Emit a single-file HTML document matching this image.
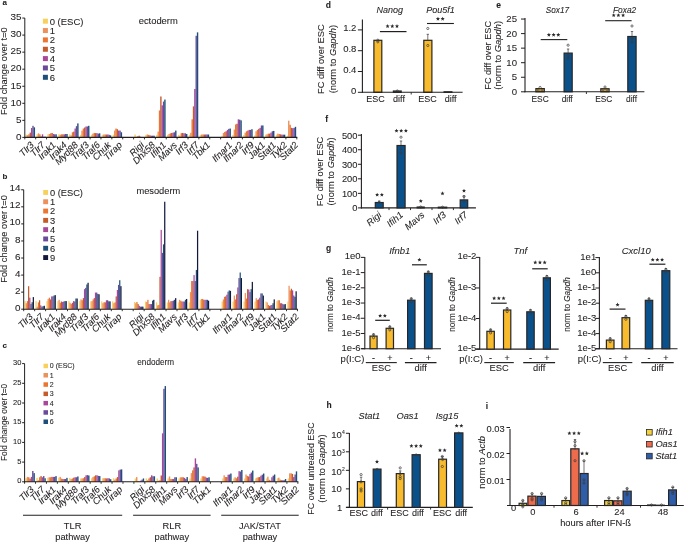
<!DOCTYPE html>
<html><head><meta charset="utf-8"><style>
html,body{margin:0;padding:0;background:#fff;}
svg{display:block;font-family:"Liberation Sans", sans-serif;will-change:transform;}
text{stroke:#231f20;stroke-width:0.08px;}
</style></head><body>
<svg width="685" height="542" viewBox="0 0 685 542" fill="#231f20">
<rect width="685" height="542" fill="#fff"/>
<text x="2.4" y="4.9" font-size="8" font-weight="bold">a</text>
<rect x="25.6" y="134.67" width="1.39" height="2.73" fill="#f8d15c"/>
<rect x="26.94" y="135.18" width="1.39" height="2.22" fill="#ec915c"/>
<rect x="28.29" y="134.33" width="1.39" height="3.07" fill="#ec7631"/>
<rect x="29.63" y="132.63" width="1.39" height="4.77" fill="#c55a2a"/>
<rect x="30.97" y="128.02" width="1.39" height="9.38" fill="#a9489b"/>
<rect x="32.31" y="125.81" width="1.39" height="11.59" fill="#6a4b9b"/>
<rect x="33.66" y="127.34" width="1.39" height="10.06" fill="#1d4f7a"/>
<rect x="36.48" y="134.33" width="1.39" height="3.07" fill="#f8d15c"/>
<rect x="37.82" y="133.31" width="1.39" height="4.09" fill="#ec915c"/>
<rect x="39.17" y="134.33" width="1.39" height="3.07" fill="#ec7631"/>
<rect x="40.51" y="136.38" width="1.39" height="1.02" fill="#c55a2a"/>
<rect x="41.85" y="134.33" width="1.39" height="3.07" fill="#a9489b"/>
<rect x="43.19" y="136.72" width="1.39" height="0.68" fill="#6a4b9b"/>
<rect x="44.54" y="136.72" width="1.39" height="0.68" fill="#1d4f7a"/>
<rect x="47.36" y="134.33" width="1.39" height="3.07" fill="#f8d15c"/>
<rect x="48.7" y="133.99" width="1.39" height="3.41" fill="#ec915c"/>
<rect x="50.05" y="133.31" width="1.39" height="4.09" fill="#ec7631"/>
<rect x="51.39" y="132.97" width="1.39" height="4.43" fill="#c55a2a"/>
<rect x="52.73" y="133.99" width="1.39" height="3.41" fill="#a9489b"/>
<rect x="54.07" y="134.33" width="1.39" height="3.07" fill="#6a4b9b"/>
<rect x="55.42" y="134.33" width="1.39" height="3.07" fill="#1d4f7a"/>
<rect x="58.24" y="134.33" width="1.39" height="3.07" fill="#f8d15c"/>
<rect x="59.58" y="134.67" width="1.39" height="2.73" fill="#ec915c"/>
<rect x="60.93" y="134.33" width="1.39" height="3.07" fill="#ec7631"/>
<rect x="62.27" y="134.33" width="1.39" height="3.07" fill="#c55a2a"/>
<rect x="63.61" y="134.33" width="1.39" height="3.07" fill="#a9489b"/>
<rect x="64.95" y="133.99" width="1.39" height="3.41" fill="#6a4b9b"/>
<rect x="66.3" y="133.99" width="1.39" height="3.41" fill="#1d4f7a"/>
<rect x="69.12" y="134.33" width="1.39" height="3.07" fill="#f8d15c"/>
<rect x="70.46" y="135.35" width="1.39" height="2.05" fill="#ec915c"/>
<rect x="71.81" y="132.28" width="1.39" height="5.12" fill="#ec7631"/>
<rect x="73.15" y="131.6" width="1.39" height="5.8" fill="#c55a2a"/>
<rect x="74.49" y="128.53" width="1.39" height="8.87" fill="#a9489b"/>
<rect x="75.83" y="126.15" width="1.39" height="11.25" fill="#6a4b9b"/>
<rect x="77.18" y="123.42" width="1.39" height="13.98" fill="#1d4f7a"/>
<rect x="80" y="134.84" width="1.39" height="2.56" fill="#f8d15c"/>
<rect x="81.34" y="130.58" width="1.39" height="6.82" fill="#ec915c"/>
<rect x="82.69" y="128.53" width="1.39" height="8.87" fill="#ec7631"/>
<rect x="84.03" y="127.51" width="1.39" height="9.89" fill="#c55a2a"/>
<rect x="85.37" y="126.49" width="1.39" height="10.91" fill="#a9489b"/>
<rect x="86.71" y="126.49" width="1.39" height="10.91" fill="#6a4b9b"/>
<rect x="88.06" y="125.81" width="1.39" height="11.59" fill="#1d4f7a"/>
<rect x="90.88" y="134.77" width="1.39" height="2.63" fill="#f8d15c"/>
<rect x="92.22" y="133.65" width="1.39" height="3.75" fill="#ec915c"/>
<rect x="93.57" y="132.97" width="1.39" height="4.43" fill="#ec7631"/>
<rect x="94.91" y="133.14" width="1.39" height="4.26" fill="#c55a2a"/>
<rect x="96.25" y="133.14" width="1.39" height="4.26" fill="#a9489b"/>
<rect x="97.59" y="133.65" width="1.39" height="3.75" fill="#6a4b9b"/>
<rect x="98.94" y="133.31" width="1.39" height="4.09" fill="#1d4f7a"/>
<rect x="101.76" y="134.77" width="1.39" height="2.63" fill="#f8d15c"/>
<rect x="103.1" y="134.5" width="1.39" height="2.9" fill="#ec915c"/>
<rect x="104.45" y="134.5" width="1.39" height="2.9" fill="#ec7631"/>
<rect x="105.79" y="134.5" width="1.39" height="2.9" fill="#c55a2a"/>
<rect x="107.13" y="134.5" width="1.39" height="2.9" fill="#a9489b"/>
<rect x="108.47" y="134.77" width="1.39" height="2.63" fill="#6a4b9b"/>
<rect x="109.82" y="135.35" width="1.39" height="2.05" fill="#1d4f7a"/>
<rect x="112.64" y="134.77" width="1.39" height="2.63" fill="#f8d15c"/>
<rect x="113.98" y="130.58" width="1.39" height="6.82" fill="#ec915c"/>
<rect x="115.33" y="128.53" width="1.39" height="8.87" fill="#ec7631"/>
<rect x="116.67" y="129.22" width="1.39" height="8.18" fill="#c55a2a"/>
<rect x="118.01" y="130.58" width="1.39" height="6.82" fill="#a9489b"/>
<rect x="119.35" y="130.58" width="1.39" height="6.82" fill="#6a4b9b"/>
<rect x="120.7" y="132.28" width="1.39" height="5.12" fill="#1d4f7a"/>
<rect x="134.4" y="134.5" width="1.39" height="2.9" fill="#f8d15c"/>
<rect x="135.74" y="136.72" width="1.39" height="0.68" fill="#ec915c"/>
<rect x="137.09" y="136.21" width="1.39" height="1.19" fill="#ec7631"/>
<rect x="138.43" y="135.69" width="1.39" height="1.71" fill="#c55a2a"/>
<rect x="139.77" y="136.72" width="1.39" height="0.68" fill="#a9489b"/>
<rect x="141.11" y="137.06" width="1.39" height="0.34" fill="#6a4b9b"/>
<rect x="142.46" y="137.06" width="1.39" height="0.34" fill="#1d4f7a"/>
<rect x="145.28" y="134.84" width="1.39" height="2.56" fill="#f8d15c"/>
<rect x="146.62" y="134.5" width="1.39" height="2.9" fill="#ec915c"/>
<rect x="147.97" y="134.84" width="1.39" height="2.56" fill="#ec7631"/>
<rect x="149.31" y="135.35" width="1.39" height="2.05" fill="#c55a2a"/>
<rect x="150.65" y="135.69" width="1.39" height="1.71" fill="#a9489b"/>
<rect x="151.99" y="135.69" width="1.39" height="1.71" fill="#6a4b9b"/>
<rect x="153.34" y="135.69" width="1.39" height="1.71" fill="#1d4f7a"/>
<rect x="156.16" y="134.84" width="1.39" height="2.56" fill="#f8d15c"/>
<rect x="157.5" y="131.6" width="1.39" height="5.8" fill="#ec915c"/>
<rect x="158.85" y="110.46" width="1.39" height="26.94" fill="#ec7631"/>
<rect x="160.19" y="96.48" width="1.39" height="40.92" fill="#c55a2a"/>
<rect x="161.53" y="105.35" width="1.39" height="32.05" fill="#a9489b"/>
<rect x="162.87" y="101.59" width="1.39" height="35.8" fill="#6a4b9b"/>
<rect x="164.22" y="99.55" width="1.39" height="37.85" fill="#1d4f7a"/>
<rect x="167.04" y="134.84" width="1.39" height="2.56" fill="#f8d15c"/>
<rect x="168.38" y="133.99" width="1.39" height="3.41" fill="#ec915c"/>
<rect x="169.73" y="133.31" width="1.39" height="4.09" fill="#ec7631"/>
<rect x="171.07" y="132.97" width="1.39" height="4.43" fill="#c55a2a"/>
<rect x="172.41" y="132.63" width="1.39" height="4.77" fill="#a9489b"/>
<rect x="173.75" y="132.28" width="1.39" height="5.12" fill="#6a4b9b"/>
<rect x="175.1" y="130.58" width="1.39" height="6.82" fill="#1d4f7a"/>
<rect x="177.92" y="134.84" width="1.39" height="2.56" fill="#f8d15c"/>
<rect x="179.26" y="135.69" width="1.39" height="1.71" fill="#ec915c"/>
<rect x="180.61" y="133.14" width="1.39" height="4.26" fill="#ec7631"/>
<rect x="181.95" y="132.97" width="1.39" height="4.43" fill="#c55a2a"/>
<rect x="183.29" y="133.31" width="1.39" height="4.09" fill="#a9489b"/>
<rect x="184.63" y="133.31" width="1.39" height="4.09" fill="#6a4b9b"/>
<rect x="185.98" y="133.99" width="1.39" height="3.41" fill="#1d4f7a"/>
<rect x="188.8" y="134.84" width="1.39" height="2.56" fill="#f8d15c"/>
<rect x="190.14" y="132.8" width="1.39" height="4.6" fill="#ec915c"/>
<rect x="191.49" y="119.33" width="1.39" height="18.07" fill="#ec7631"/>
<rect x="192.83" y="106.37" width="1.39" height="31.03" fill="#c55a2a"/>
<rect x="194.17" y="88.98" width="1.39" height="48.42" fill="#a9489b"/>
<rect x="195.51" y="35.78" width="1.39" height="101.62" fill="#6a4b9b"/>
<rect x="196.86" y="32.37" width="1.39" height="105.03" fill="#1d4f7a"/>
<rect x="199.68" y="134.84" width="1.39" height="2.56" fill="#f8d15c"/>
<rect x="201.02" y="134.5" width="1.39" height="2.9" fill="#ec915c"/>
<rect x="202.37" y="134.5" width="1.39" height="2.9" fill="#ec7631"/>
<rect x="203.71" y="134.5" width="1.39" height="2.9" fill="#c55a2a"/>
<rect x="205.05" y="134.5" width="1.39" height="2.9" fill="#a9489b"/>
<rect x="206.39" y="134.5" width="1.39" height="2.9" fill="#6a4b9b"/>
<rect x="207.74" y="134.5" width="1.39" height="2.9" fill="#1d4f7a"/>
<rect x="221.44" y="135.69" width="1.39" height="1.71" fill="#f8d15c"/>
<rect x="222.78" y="132.97" width="1.39" height="4.43" fill="#ec915c"/>
<rect x="224.13" y="131.94" width="1.39" height="5.46" fill="#ec7631"/>
<rect x="225.47" y="131.26" width="1.39" height="6.14" fill="#c55a2a"/>
<rect x="226.81" y="129.9" width="1.39" height="7.5" fill="#a9489b"/>
<rect x="228.15" y="128.88" width="1.39" height="8.53" fill="#6a4b9b"/>
<rect x="229.5" y="128.53" width="1.39" height="8.87" fill="#1d4f7a"/>
<rect x="232.32" y="135.01" width="1.39" height="2.39" fill="#f8d15c"/>
<rect x="233.66" y="129.56" width="1.39" height="7.84" fill="#ec915c"/>
<rect x="235.01" y="124.44" width="1.39" height="12.96" fill="#ec7631"/>
<rect x="236.35" y="123.76" width="1.39" height="13.64" fill="#c55a2a"/>
<rect x="237.69" y="119.33" width="1.39" height="18.07" fill="#a9489b"/>
<rect x="239.03" y="119.67" width="1.39" height="17.73" fill="#6a4b9b"/>
<rect x="240.38" y="120.35" width="1.39" height="17.05" fill="#1d4f7a"/>
<rect x="243.2" y="135.01" width="1.39" height="2.39" fill="#f8d15c"/>
<rect x="244.54" y="132.63" width="1.39" height="4.77" fill="#ec915c"/>
<rect x="245.89" y="131.26" width="1.39" height="6.14" fill="#ec7631"/>
<rect x="247.23" y="130.58" width="1.39" height="6.82" fill="#c55a2a"/>
<rect x="248.57" y="129.9" width="1.39" height="7.5" fill="#a9489b"/>
<rect x="249.91" y="129.9" width="1.39" height="7.5" fill="#6a4b9b"/>
<rect x="251.26" y="129.22" width="1.39" height="8.18" fill="#1d4f7a"/>
<rect x="254.08" y="135.35" width="1.39" height="2.05" fill="#f8d15c"/>
<rect x="255.42" y="131.26" width="1.39" height="6.14" fill="#ec915c"/>
<rect x="256.77" y="129.9" width="1.39" height="7.5" fill="#ec7631"/>
<rect x="258.11" y="128.88" width="1.39" height="8.53" fill="#c55a2a"/>
<rect x="259.45" y="127.85" width="1.39" height="9.55" fill="#a9489b"/>
<rect x="260.79" y="125.47" width="1.39" height="11.94" fill="#6a4b9b"/>
<rect x="262.14" y="125.47" width="1.39" height="11.94" fill="#1d4f7a"/>
<rect x="264.96" y="134.67" width="1.39" height="2.73" fill="#f8d15c"/>
<rect x="266.3" y="134.33" width="1.39" height="3.07" fill="#ec915c"/>
<rect x="267.65" y="133.65" width="1.39" height="3.75" fill="#ec7631"/>
<rect x="268.99" y="133.65" width="1.39" height="3.75" fill="#c55a2a"/>
<rect x="270.33" y="132.63" width="1.39" height="4.77" fill="#a9489b"/>
<rect x="271.67" y="131.26" width="1.39" height="6.14" fill="#6a4b9b"/>
<rect x="273.02" y="130.92" width="1.39" height="6.48" fill="#1d4f7a"/>
<rect x="275.84" y="134.67" width="1.39" height="2.73" fill="#f8d15c"/>
<rect x="277.18" y="133.65" width="1.39" height="3.75" fill="#ec915c"/>
<rect x="278.53" y="133.99" width="1.39" height="3.41" fill="#ec7631"/>
<rect x="279.87" y="134.33" width="1.39" height="3.07" fill="#c55a2a"/>
<rect x="281.21" y="134.67" width="1.39" height="2.73" fill="#a9489b"/>
<rect x="282.55" y="134.67" width="1.39" height="2.73" fill="#6a4b9b"/>
<rect x="283.9" y="134.67" width="1.39" height="2.73" fill="#1d4f7a"/>
<rect x="286.72" y="135.69" width="1.39" height="1.71" fill="#f8d15c"/>
<rect x="288.06" y="120.69" width="1.39" height="16.71" fill="#ec915c"/>
<rect x="289.41" y="124.78" width="1.39" height="12.62" fill="#ec7631"/>
<rect x="290.75" y="127.85" width="1.39" height="9.55" fill="#c55a2a"/>
<rect x="292.09" y="128.19" width="1.39" height="9.21" fill="#a9489b"/>
<rect x="293.43" y="127.85" width="1.39" height="9.55" fill="#6a4b9b"/>
<rect x="294.78" y="126.83" width="1.39" height="10.57" fill="#1d4f7a"/>
<line x1="24.8" y1="18.05" x2="24.8" y2="137.9" stroke="#231f20" stroke-width="1"/>
<line x1="24.3" y1="137.4" x2="297.3" y2="137.4" stroke="#231f20" stroke-width="1.1"/>
<line x1="22.3" y1="137.4" x2="24.8" y2="137.4" stroke="#231f20" stroke-width="1"/>
<text x="21.6" y="139.68" font-size="9.9" text-anchor="end">0</text>
<line x1="22.3" y1="120.35" x2="24.8" y2="120.35" stroke="#231f20" stroke-width="1"/>
<text x="21.6" y="122.63" font-size="9.9" text-anchor="end">5</text>
<line x1="22.3" y1="103.3" x2="24.8" y2="103.3" stroke="#231f20" stroke-width="1"/>
<text x="21.6" y="105.58" font-size="9.9" text-anchor="end">10</text>
<line x1="22.3" y1="86.25" x2="24.8" y2="86.25" stroke="#231f20" stroke-width="1"/>
<text x="21.6" y="88.53" font-size="9.9" text-anchor="end">15</text>
<line x1="22.3" y1="69.2" x2="24.8" y2="69.2" stroke="#231f20" stroke-width="1"/>
<text x="21.6" y="71.48" font-size="9.9" text-anchor="end">20</text>
<line x1="22.3" y1="52.15" x2="24.8" y2="52.15" stroke="#231f20" stroke-width="1"/>
<text x="21.6" y="54.43" font-size="9.9" text-anchor="end">25</text>
<line x1="22.3" y1="35.1" x2="24.8" y2="35.1" stroke="#231f20" stroke-width="1"/>
<text x="21.6" y="37.38" font-size="9.9" text-anchor="end">30</text>
<line x1="22.3" y1="18.05" x2="24.8" y2="18.05" stroke="#231f20" stroke-width="1"/>
<text x="21.6" y="20.33" font-size="9.9" text-anchor="end">35</text>
<line x1="24.8" y1="137.4" x2="24.8" y2="139.4" stroke="#231f20" stroke-width="0.9"/>
<line x1="35.68" y1="137.4" x2="35.68" y2="139.4" stroke="#231f20" stroke-width="0.9"/>
<line x1="46.56" y1="137.4" x2="46.56" y2="139.4" stroke="#231f20" stroke-width="0.9"/>
<line x1="57.44" y1="137.4" x2="57.44" y2="139.4" stroke="#231f20" stroke-width="0.9"/>
<line x1="68.32" y1="137.4" x2="68.32" y2="139.4" stroke="#231f20" stroke-width="0.9"/>
<line x1="79.2" y1="137.4" x2="79.2" y2="139.4" stroke="#231f20" stroke-width="0.9"/>
<line x1="90.08" y1="137.4" x2="90.08" y2="139.4" stroke="#231f20" stroke-width="0.9"/>
<line x1="100.96" y1="137.4" x2="100.96" y2="139.4" stroke="#231f20" stroke-width="0.9"/>
<line x1="111.84" y1="137.4" x2="111.84" y2="139.4" stroke="#231f20" stroke-width="0.9"/>
<line x1="122.72" y1="137.4" x2="122.72" y2="139.4" stroke="#231f20" stroke-width="0.9"/>
<line x1="133.6" y1="137.4" x2="133.6" y2="139.4" stroke="#231f20" stroke-width="0.9"/>
<line x1="144.48" y1="137.4" x2="144.48" y2="139.4" stroke="#231f20" stroke-width="0.9"/>
<line x1="155.36" y1="137.4" x2="155.36" y2="139.4" stroke="#231f20" stroke-width="0.9"/>
<line x1="166.24" y1="137.4" x2="166.24" y2="139.4" stroke="#231f20" stroke-width="0.9"/>
<line x1="177.12" y1="137.4" x2="177.12" y2="139.4" stroke="#231f20" stroke-width="0.9"/>
<line x1="188" y1="137.4" x2="188" y2="139.4" stroke="#231f20" stroke-width="0.9"/>
<line x1="198.88" y1="137.4" x2="198.88" y2="139.4" stroke="#231f20" stroke-width="0.9"/>
<line x1="209.76" y1="137.4" x2="209.76" y2="139.4" stroke="#231f20" stroke-width="0.9"/>
<line x1="220.64" y1="137.4" x2="220.64" y2="139.4" stroke="#231f20" stroke-width="0.9"/>
<line x1="231.52" y1="137.4" x2="231.52" y2="139.4" stroke="#231f20" stroke-width="0.9"/>
<line x1="242.4" y1="137.4" x2="242.4" y2="139.4" stroke="#231f20" stroke-width="0.9"/>
<line x1="253.28" y1="137.4" x2="253.28" y2="139.4" stroke="#231f20" stroke-width="0.9"/>
<line x1="264.16" y1="137.4" x2="264.16" y2="139.4" stroke="#231f20" stroke-width="0.9"/>
<line x1="275.04" y1="137.4" x2="275.04" y2="139.4" stroke="#231f20" stroke-width="0.9"/>
<line x1="285.92" y1="137.4" x2="285.92" y2="139.4" stroke="#231f20" stroke-width="0.9"/>
<line x1="296.8" y1="137.4" x2="296.8" y2="139.4" stroke="#231f20" stroke-width="0.9"/>
<text x="34.54" y="145.6" font-size="9.4" text-anchor="end" font-style="italic" transform="rotate(-45 34.54 145.6)">Tlr3</text>
<text x="45.55" y="145.6" font-size="9.4" text-anchor="end" font-style="italic" transform="rotate(-45 45.55 145.6)">Tlr7</text>
<text x="56.56" y="145.6" font-size="9.4" text-anchor="end" font-style="italic" transform="rotate(-45 56.56 145.6)">Irak1</text>
<text x="67.57" y="145.6" font-size="9.4" text-anchor="end" font-style="italic" transform="rotate(-45 67.57 145.6)">Irak4</text>
<text x="78.58" y="145.6" font-size="9.4" text-anchor="end" font-style="italic" transform="rotate(-45 78.58 145.6)">Myd88</text>
<text x="89.59" y="145.6" font-size="9.4" text-anchor="end" font-style="italic" transform="rotate(-45 89.59 145.6)">Traf3</text>
<text x="100.6" y="145.6" font-size="9.4" text-anchor="end" font-style="italic" transform="rotate(-45 100.6 145.6)">Traf6</text>
<text x="111.61" y="145.6" font-size="9.4" text-anchor="end" font-style="italic" transform="rotate(-45 111.61 145.6)">Chuk</text>
<text x="122.62" y="145.6" font-size="9.4" text-anchor="end" font-style="italic" transform="rotate(-45 122.62 145.6)">Tirap</text>
<text x="144.64" y="145.6" font-size="9.4" text-anchor="end" font-style="italic" transform="rotate(-45 144.64 145.6)">Rigi</text>
<text x="155.65" y="145.6" font-size="9.4" text-anchor="end" font-style="italic" transform="rotate(-45 155.65 145.6)">Dhx58</text>
<text x="166.66" y="145.6" font-size="9.4" text-anchor="end" font-style="italic" transform="rotate(-45 166.66 145.6)">Ifih1</text>
<text x="177.67" y="145.6" font-size="9.4" text-anchor="end" font-style="italic" transform="rotate(-45 177.67 145.6)">Mavs</text>
<text x="188.68" y="145.6" font-size="9.4" text-anchor="end" font-style="italic" transform="rotate(-45 188.68 145.6)">Irf3</text>
<text x="199.69" y="145.6" font-size="9.4" text-anchor="end" font-style="italic" transform="rotate(-45 199.69 145.6)">Irf7</text>
<text x="210.7" y="145.6" font-size="9.4" text-anchor="end" font-style="italic" transform="rotate(-45 210.7 145.6)">Tbk1</text>
<text x="232.72" y="145.6" font-size="9.4" text-anchor="end" font-style="italic" transform="rotate(-45 232.72 145.6)">Ifnar1</text>
<text x="243.73" y="145.6" font-size="9.4" text-anchor="end" font-style="italic" transform="rotate(-45 243.73 145.6)">Ifnar2</text>
<text x="254.74" y="145.6" font-size="9.4" text-anchor="end" font-style="italic" transform="rotate(-45 254.74 145.6)">Irf9</text>
<text x="265.75" y="145.6" font-size="9.4" text-anchor="end" font-style="italic" transform="rotate(-45 265.75 145.6)">Jak1</text>
<text x="276.76" y="145.6" font-size="9.4" text-anchor="end" font-style="italic" transform="rotate(-45 276.76 145.6)">Stat1</text>
<text x="287.77" y="145.6" font-size="9.4" text-anchor="end" font-style="italic" transform="rotate(-45 287.77 145.6)">Tyk2</text>
<text x="298.78" y="145.6" font-size="9.4" text-anchor="end" font-style="italic" transform="rotate(-45 298.78 145.6)">Stat2</text>
<rect x="42.9" y="18.7" width="5" height="5" fill="#f8d15c"/>
<text x="49.7" y="24.62" font-size="9.5">0 (ESC)</text>
<rect x="42.9" y="28.05" width="5" height="5" fill="#ec915c"/>
<text x="49.7" y="33.97" font-size="9.5">1</text>
<rect x="42.9" y="37.4" width="5" height="5" fill="#ec7631"/>
<text x="49.7" y="43.32" font-size="9.5">2</text>
<rect x="42.9" y="46.75" width="5" height="5" fill="#c55a2a"/>
<text x="49.7" y="52.67" font-size="9.5">3</text>
<rect x="42.9" y="56.1" width="5" height="5" fill="#a9489b"/>
<text x="49.7" y="62.02" font-size="9.5">4</text>
<rect x="42.9" y="65.45" width="5" height="5" fill="#6a4b9b"/>
<text x="49.7" y="71.37" font-size="9.5">5</text>
<rect x="42.9" y="74.8" width="5" height="5" fill="#1d4f7a"/>
<text x="49.7" y="80.72" font-size="9.5">6</text>
<text x="138.7" y="23.8" font-size="9.4">ectoderm</text>
<text x="7" y="71.2" font-size="9.3" text-anchor="middle" transform="rotate(-90 7 71.2)">Fold change over t=0</text>
<text x="2.4" y="179" font-size="8" font-weight="bold">b</text>
<rect x="24.5" y="301.1" width="1.23" height="8.1" fill="#f8d15c"/>
<rect x="25.68" y="303.23" width="1.23" height="5.97" fill="#ec915c"/>
<rect x="26.85" y="301.1" width="1.23" height="8.1" fill="#ec7631"/>
<rect x="28.02" y="286.17" width="1.23" height="23.03" fill="#c55a2a"/>
<rect x="29.2" y="297.68" width="1.23" height="11.52" fill="#a9489b"/>
<rect x="30.38" y="304.08" width="1.23" height="5.12" fill="#6a4b9b"/>
<rect x="31.55" y="302.21" width="1.23" height="6.99" fill="#1d4f7a"/>
<rect x="32.73" y="297.09" width="1.23" height="12.11" fill="#12183c"/>
<rect x="35.45" y="301.1" width="1.23" height="8.1" fill="#f8d15c"/>
<rect x="36.62" y="306.64" width="1.23" height="2.56" fill="#ec915c"/>
<rect x="37.8" y="302.38" width="1.23" height="6.82" fill="#ec7631"/>
<rect x="38.97" y="300.24" width="1.23" height="8.96" fill="#c55a2a"/>
<rect x="40.15" y="305.36" width="1.23" height="3.84" fill="#a9489b"/>
<rect x="41.32" y="306.64" width="1.23" height="2.56" fill="#6a4b9b"/>
<rect x="42.5" y="306.21" width="1.23" height="2.99" fill="#1d4f7a"/>
<rect x="43.67" y="305.79" width="1.23" height="3.41" fill="#12183c"/>
<rect x="46.4" y="301.1" width="1.23" height="8.1" fill="#f8d15c"/>
<rect x="47.57" y="298.96" width="1.23" height="10.24" fill="#ec915c"/>
<rect x="48.75" y="297.68" width="1.23" height="11.52" fill="#ec7631"/>
<rect x="49.92" y="299.39" width="1.23" height="9.81" fill="#c55a2a"/>
<rect x="51.1" y="296.4" width="1.23" height="12.79" fill="#a9489b"/>
<rect x="52.27" y="296.4" width="1.23" height="12.79" fill="#6a4b9b"/>
<rect x="53.45" y="295.55" width="1.23" height="13.65" fill="#1d4f7a"/>
<rect x="54.62" y="295.13" width="1.23" height="14.07" fill="#12183c"/>
<rect x="57.35" y="301.1" width="1.23" height="8.1" fill="#f8d15c"/>
<rect x="58.52" y="299.82" width="1.23" height="9.38" fill="#ec915c"/>
<rect x="59.7" y="302.8" width="1.23" height="6.4" fill="#ec7631"/>
<rect x="60.87" y="301.52" width="1.23" height="7.68" fill="#c55a2a"/>
<rect x="62.05" y="301.95" width="1.23" height="7.25" fill="#a9489b"/>
<rect x="63.22" y="301.52" width="1.23" height="7.68" fill="#6a4b9b"/>
<rect x="64.4" y="301.1" width="1.23" height="8.1" fill="#1d4f7a"/>
<rect x="65.57" y="301.1" width="1.23" height="8.1" fill="#12183c"/>
<rect x="68.3" y="301.1" width="1.23" height="8.1" fill="#f8d15c"/>
<rect x="69.47" y="302.8" width="1.23" height="6.4" fill="#ec915c"/>
<rect x="70.65" y="304.08" width="1.23" height="5.12" fill="#ec7631"/>
<rect x="71.83" y="302.8" width="1.23" height="6.4" fill="#c55a2a"/>
<rect x="73" y="301.1" width="1.23" height="8.1" fill="#a9489b"/>
<rect x="74.17" y="301.52" width="1.23" height="7.68" fill="#6a4b9b"/>
<rect x="75.35" y="298.54" width="1.23" height="10.66" fill="#1d4f7a"/>
<rect x="76.52" y="298.54" width="1.23" height="10.66" fill="#12183c"/>
<rect x="79.25" y="301.1" width="1.23" height="8.1" fill="#f8d15c"/>
<rect x="80.42" y="299.39" width="1.23" height="9.81" fill="#ec915c"/>
<rect x="81.6" y="300.24" width="1.23" height="8.96" fill="#ec7631"/>
<rect x="82.78" y="298.11" width="1.23" height="11.09" fill="#c55a2a"/>
<rect x="83.95" y="289.15" width="1.23" height="20.05" fill="#a9489b"/>
<rect x="85.12" y="287.88" width="1.23" height="21.32" fill="#6a4b9b"/>
<rect x="86.3" y="284.46" width="1.23" height="24.74" fill="#1d4f7a"/>
<rect x="87.47" y="282.76" width="1.23" height="26.44" fill="#12183c"/>
<rect x="90.2" y="301.35" width="1.23" height="7.85" fill="#f8d15c"/>
<rect x="91.37" y="301.1" width="1.23" height="8.1" fill="#ec915c"/>
<rect x="92.55" y="299.39" width="1.23" height="9.81" fill="#ec7631"/>
<rect x="93.72" y="298.11" width="1.23" height="11.09" fill="#c55a2a"/>
<rect x="94.9" y="292.57" width="1.23" height="16.63" fill="#a9489b"/>
<rect x="96.07" y="292.57" width="1.23" height="16.63" fill="#6a4b9b"/>
<rect x="97.25" y="293.85" width="1.23" height="15.35" fill="#1d4f7a"/>
<rect x="98.42" y="294.27" width="1.23" height="14.93" fill="#12183c"/>
<rect x="101.15" y="301.35" width="1.23" height="7.85" fill="#f8d15c"/>
<rect x="102.32" y="303.23" width="1.23" height="5.97" fill="#ec915c"/>
<rect x="103.5" y="302.21" width="1.23" height="6.99" fill="#ec7631"/>
<rect x="104.67" y="302.38" width="1.23" height="6.82" fill="#c55a2a"/>
<rect x="105.85" y="300.24" width="1.23" height="8.96" fill="#a9489b"/>
<rect x="107.02" y="300.24" width="1.23" height="8.96" fill="#6a4b9b"/>
<rect x="108.2" y="301.35" width="1.23" height="7.85" fill="#1d4f7a"/>
<rect x="109.37" y="301.35" width="1.23" height="7.85" fill="#12183c"/>
<rect x="112.1" y="301.35" width="1.23" height="7.85" fill="#f8d15c"/>
<rect x="113.27" y="303.23" width="1.23" height="5.97" fill="#ec915c"/>
<rect x="114.45" y="302.38" width="1.23" height="6.82" fill="#ec7631"/>
<rect x="115.62" y="296.4" width="1.23" height="12.79" fill="#c55a2a"/>
<rect x="116.8" y="290.01" width="1.23" height="19.19" fill="#a9489b"/>
<rect x="117.97" y="284.89" width="1.23" height="24.31" fill="#6a4b9b"/>
<rect x="119.15" y="280.2" width="1.23" height="29" fill="#1d4f7a"/>
<rect x="120.32" y="286.17" width="1.23" height="23.03" fill="#12183c"/>
<rect x="134" y="301.95" width="1.23" height="7.25" fill="#f8d15c"/>
<rect x="135.18" y="303.23" width="1.23" height="5.97" fill="#ec915c"/>
<rect x="136.35" y="301.95" width="1.23" height="7.25" fill="#ec7631"/>
<rect x="137.53" y="304.08" width="1.23" height="5.12" fill="#c55a2a"/>
<rect x="138.7" y="305.79" width="1.23" height="3.41" fill="#a9489b"/>
<rect x="139.88" y="306.64" width="1.23" height="2.56" fill="#6a4b9b"/>
<rect x="141.05" y="306.64" width="1.23" height="2.56" fill="#1d4f7a"/>
<rect x="142.22" y="306.64" width="1.23" height="2.56" fill="#12183c"/>
<rect x="144.95" y="301.52" width="1.23" height="7.68" fill="#f8d15c"/>
<rect x="146.12" y="301.95" width="1.23" height="7.25" fill="#ec915c"/>
<rect x="147.3" y="299.82" width="1.23" height="9.38" fill="#ec7631"/>
<rect x="148.47" y="304.08" width="1.23" height="5.12" fill="#c55a2a"/>
<rect x="149.65" y="304.08" width="1.23" height="5.12" fill="#a9489b"/>
<rect x="150.82" y="304.08" width="1.23" height="5.12" fill="#6a4b9b"/>
<rect x="152" y="300.67" width="1.23" height="8.53" fill="#1d4f7a"/>
<rect x="153.17" y="299.82" width="1.23" height="9.38" fill="#12183c"/>
<rect x="155.9" y="302.38" width="1.23" height="6.82" fill="#f8d15c"/>
<rect x="157.07" y="305.36" width="1.23" height="3.84" fill="#ec915c"/>
<rect x="158.25" y="304.94" width="1.23" height="4.26" fill="#ec7631"/>
<rect x="159.42" y="276.79" width="1.23" height="32.41" fill="#c55a2a"/>
<rect x="160.6" y="229.87" width="1.23" height="79.33" fill="#a9489b"/>
<rect x="161.77" y="252.9" width="1.23" height="56.3" fill="#6a4b9b"/>
<rect x="162.95" y="244.37" width="1.23" height="64.83" fill="#1d4f7a"/>
<rect x="164.12" y="201.72" width="1.23" height="107.48" fill="#12183c"/>
<rect x="166.85" y="302.38" width="1.23" height="6.82" fill="#f8d15c"/>
<rect x="168.03" y="299.82" width="1.23" height="9.38" fill="#ec915c"/>
<rect x="169.2" y="302.38" width="1.23" height="6.82" fill="#ec7631"/>
<rect x="170.38" y="301.1" width="1.23" height="8.1" fill="#c55a2a"/>
<rect x="171.55" y="301.1" width="1.23" height="8.1" fill="#a9489b"/>
<rect x="172.72" y="300.67" width="1.23" height="8.53" fill="#6a4b9b"/>
<rect x="173.9" y="299.82" width="1.23" height="9.38" fill="#1d4f7a"/>
<rect x="175.07" y="298.11" width="1.23" height="11.09" fill="#12183c"/>
<rect x="177.8" y="302.38" width="1.23" height="6.82" fill="#f8d15c"/>
<rect x="178.97" y="299.82" width="1.23" height="9.38" fill="#ec915c"/>
<rect x="180.15" y="300.67" width="1.23" height="8.53" fill="#ec7631"/>
<rect x="181.32" y="301.52" width="1.23" height="7.68" fill="#c55a2a"/>
<rect x="182.5" y="301.52" width="1.23" height="7.68" fill="#a9489b"/>
<rect x="183.67" y="301.52" width="1.23" height="7.68" fill="#6a4b9b"/>
<rect x="184.85" y="299.82" width="1.23" height="9.38" fill="#1d4f7a"/>
<rect x="186.02" y="298.96" width="1.23" height="10.24" fill="#12183c"/>
<rect x="188.75" y="302.38" width="1.23" height="6.82" fill="#f8d15c"/>
<rect x="189.93" y="292.14" width="1.23" height="17.06" fill="#ec915c"/>
<rect x="191.1" y="281.05" width="1.23" height="28.15" fill="#ec7631"/>
<rect x="192.28" y="281.05" width="1.23" height="28.15" fill="#c55a2a"/>
<rect x="193.45" y="275.08" width="1.23" height="34.12" fill="#a9489b"/>
<rect x="194.62" y="281.05" width="1.23" height="28.15" fill="#6a4b9b"/>
<rect x="195.8" y="269.96" width="1.23" height="39.24" fill="#1d4f7a"/>
<rect x="196.97" y="230.72" width="1.23" height="78.48" fill="#12183c"/>
<rect x="199.7" y="299.82" width="1.23" height="9.38" fill="#f8d15c"/>
<rect x="200.88" y="298.96" width="1.23" height="10.24" fill="#ec915c"/>
<rect x="202.05" y="298.96" width="1.23" height="10.24" fill="#ec7631"/>
<rect x="203.22" y="299.82" width="1.23" height="9.38" fill="#c55a2a"/>
<rect x="204.4" y="299.82" width="1.23" height="9.38" fill="#a9489b"/>
<rect x="205.57" y="299.82" width="1.23" height="9.38" fill="#6a4b9b"/>
<rect x="206.75" y="299.82" width="1.23" height="9.38" fill="#1d4f7a"/>
<rect x="207.92" y="300.67" width="1.23" height="8.53" fill="#12183c"/>
<rect x="221.6" y="301.52" width="1.23" height="7.68" fill="#f8d15c"/>
<rect x="222.78" y="299.39" width="1.23" height="9.81" fill="#ec915c"/>
<rect x="223.95" y="296.83" width="1.23" height="12.37" fill="#ec7631"/>
<rect x="225.12" y="296.4" width="1.23" height="12.79" fill="#c55a2a"/>
<rect x="226.3" y="294.7" width="1.23" height="14.5" fill="#a9489b"/>
<rect x="227.47" y="291.71" width="1.23" height="17.49" fill="#6a4b9b"/>
<rect x="228.65" y="290.43" width="1.23" height="18.77" fill="#1d4f7a"/>
<rect x="229.82" y="290.86" width="1.23" height="18.34" fill="#12183c"/>
<rect x="232.55" y="301.52" width="1.23" height="7.68" fill="#f8d15c"/>
<rect x="233.72" y="295.55" width="1.23" height="13.65" fill="#ec915c"/>
<rect x="234.9" y="299.39" width="1.23" height="9.81" fill="#ec7631"/>
<rect x="236.07" y="294.27" width="1.23" height="14.93" fill="#c55a2a"/>
<rect x="237.25" y="287.45" width="1.23" height="21.75" fill="#a9489b"/>
<rect x="238.42" y="278.07" width="1.23" height="31.13" fill="#6a4b9b"/>
<rect x="239.6" y="272.52" width="1.23" height="36.68" fill="#1d4f7a"/>
<rect x="240.77" y="278.07" width="1.23" height="31.13" fill="#12183c"/>
<rect x="243.5" y="301.52" width="1.23" height="7.68" fill="#f8d15c"/>
<rect x="244.68" y="292.99" width="1.23" height="16.21" fill="#ec915c"/>
<rect x="245.85" y="298.54" width="1.23" height="10.66" fill="#ec7631"/>
<rect x="247.03" y="289.15" width="1.23" height="20.05" fill="#c55a2a"/>
<rect x="248.2" y="289.58" width="1.23" height="19.62" fill="#a9489b"/>
<rect x="249.38" y="292.14" width="1.23" height="17.06" fill="#6a4b9b"/>
<rect x="250.55" y="289.15" width="1.23" height="20.05" fill="#1d4f7a"/>
<rect x="251.72" y="281.9" width="1.23" height="27.3" fill="#12183c"/>
<rect x="254.45" y="301.52" width="1.23" height="7.68" fill="#f8d15c"/>
<rect x="255.62" y="298.11" width="1.23" height="11.09" fill="#ec915c"/>
<rect x="256.8" y="299.82" width="1.23" height="9.38" fill="#ec7631"/>
<rect x="257.97" y="299.39" width="1.23" height="9.81" fill="#c55a2a"/>
<rect x="259.15" y="297.68" width="1.23" height="11.52" fill="#a9489b"/>
<rect x="260.32" y="293.42" width="1.23" height="15.78" fill="#6a4b9b"/>
<rect x="261.5" y="293.42" width="1.23" height="15.78" fill="#1d4f7a"/>
<rect x="262.68" y="295.55" width="1.23" height="13.65" fill="#12183c"/>
<rect x="265.4" y="301.52" width="1.23" height="7.68" fill="#f8d15c"/>
<rect x="266.57" y="302.38" width="1.23" height="6.82" fill="#ec915c"/>
<rect x="267.75" y="304.94" width="1.23" height="4.26" fill="#ec7631"/>
<rect x="268.92" y="305.79" width="1.23" height="3.41" fill="#c55a2a"/>
<rect x="270.1" y="305.36" width="1.23" height="3.84" fill="#a9489b"/>
<rect x="271.27" y="304.94" width="1.23" height="4.26" fill="#6a4b9b"/>
<rect x="272.45" y="303.23" width="1.23" height="5.97" fill="#1d4f7a"/>
<rect x="273.62" y="299.39" width="1.23" height="9.81" fill="#12183c"/>
<rect x="276.35" y="301.1" width="1.23" height="8.1" fill="#f8d15c"/>
<rect x="277.53" y="300.24" width="1.23" height="8.96" fill="#ec915c"/>
<rect x="278.7" y="300.24" width="1.23" height="8.96" fill="#ec7631"/>
<rect x="279.88" y="303.23" width="1.23" height="5.97" fill="#c55a2a"/>
<rect x="281.05" y="303.23" width="1.23" height="5.97" fill="#a9489b"/>
<rect x="282.23" y="304.08" width="1.23" height="5.12" fill="#6a4b9b"/>
<rect x="283.4" y="304.51" width="1.23" height="4.69" fill="#1d4f7a"/>
<rect x="284.58" y="304.08" width="1.23" height="5.12" fill="#12183c"/>
<rect x="287.3" y="301.52" width="1.23" height="7.68" fill="#f8d15c"/>
<rect x="288.47" y="285.74" width="1.23" height="23.46" fill="#ec915c"/>
<rect x="289.65" y="290.43" width="1.23" height="18.77" fill="#ec7631"/>
<rect x="290.82" y="288.73" width="1.23" height="20.47" fill="#c55a2a"/>
<rect x="292" y="290.43" width="1.23" height="18.77" fill="#a9489b"/>
<rect x="293.17" y="295.55" width="1.23" height="13.65" fill="#6a4b9b"/>
<rect x="294.35" y="296.83" width="1.23" height="12.37" fill="#1d4f7a"/>
<rect x="295.52" y="291.29" width="1.23" height="17.91" fill="#12183c"/>
<line x1="23.7" y1="189.78" x2="23.7" y2="309.7" stroke="#231f20" stroke-width="1"/>
<line x1="23.2" y1="309.2" x2="297.95" y2="309.2" stroke="#231f20" stroke-width="1.1"/>
<line x1="21.2" y1="309.2" x2="23.7" y2="309.2" stroke="#231f20" stroke-width="1"/>
<text x="20.5" y="310.78" font-size="9.9" text-anchor="end">0</text>
<line x1="21.2" y1="292.14" x2="23.7" y2="292.14" stroke="#231f20" stroke-width="1"/>
<text x="20.5" y="293.72" font-size="9.9" text-anchor="end">2</text>
<line x1="21.2" y1="275.08" x2="23.7" y2="275.08" stroke="#231f20" stroke-width="1"/>
<text x="20.5" y="276.66" font-size="9.9" text-anchor="end">4</text>
<line x1="21.2" y1="258.02" x2="23.7" y2="258.02" stroke="#231f20" stroke-width="1"/>
<text x="20.5" y="259.6" font-size="9.9" text-anchor="end">6</text>
<line x1="21.2" y1="240.96" x2="23.7" y2="240.96" stroke="#231f20" stroke-width="1"/>
<text x="20.5" y="242.54" font-size="9.9" text-anchor="end">8</text>
<line x1="21.2" y1="223.9" x2="23.7" y2="223.9" stroke="#231f20" stroke-width="1"/>
<text x="20.5" y="225.48" font-size="9.9" text-anchor="end">10</text>
<line x1="21.2" y1="206.84" x2="23.7" y2="206.84" stroke="#231f20" stroke-width="1"/>
<text x="20.5" y="208.42" font-size="9.9" text-anchor="end">12</text>
<line x1="21.2" y1="189.78" x2="23.7" y2="189.78" stroke="#231f20" stroke-width="1"/>
<text x="20.5" y="191.36" font-size="9.9" text-anchor="end">14</text>
<line x1="23.7" y1="309.2" x2="23.7" y2="311.2" stroke="#231f20" stroke-width="0.9"/>
<line x1="34.65" y1="309.2" x2="34.65" y2="311.2" stroke="#231f20" stroke-width="0.9"/>
<line x1="45.6" y1="309.2" x2="45.6" y2="311.2" stroke="#231f20" stroke-width="0.9"/>
<line x1="56.55" y1="309.2" x2="56.55" y2="311.2" stroke="#231f20" stroke-width="0.9"/>
<line x1="67.5" y1="309.2" x2="67.5" y2="311.2" stroke="#231f20" stroke-width="0.9"/>
<line x1="78.45" y1="309.2" x2="78.45" y2="311.2" stroke="#231f20" stroke-width="0.9"/>
<line x1="89.4" y1="309.2" x2="89.4" y2="311.2" stroke="#231f20" stroke-width="0.9"/>
<line x1="100.35" y1="309.2" x2="100.35" y2="311.2" stroke="#231f20" stroke-width="0.9"/>
<line x1="111.3" y1="309.2" x2="111.3" y2="311.2" stroke="#231f20" stroke-width="0.9"/>
<line x1="122.25" y1="309.2" x2="122.25" y2="311.2" stroke="#231f20" stroke-width="0.9"/>
<line x1="133.2" y1="309.2" x2="133.2" y2="311.2" stroke="#231f20" stroke-width="0.9"/>
<line x1="144.15" y1="309.2" x2="144.15" y2="311.2" stroke="#231f20" stroke-width="0.9"/>
<line x1="155.1" y1="309.2" x2="155.1" y2="311.2" stroke="#231f20" stroke-width="0.9"/>
<line x1="166.05" y1="309.2" x2="166.05" y2="311.2" stroke="#231f20" stroke-width="0.9"/>
<line x1="177" y1="309.2" x2="177" y2="311.2" stroke="#231f20" stroke-width="0.9"/>
<line x1="187.95" y1="309.2" x2="187.95" y2="311.2" stroke="#231f20" stroke-width="0.9"/>
<line x1="198.9" y1="309.2" x2="198.9" y2="311.2" stroke="#231f20" stroke-width="0.9"/>
<line x1="209.85" y1="309.2" x2="209.85" y2="311.2" stroke="#231f20" stroke-width="0.9"/>
<line x1="220.8" y1="309.2" x2="220.8" y2="311.2" stroke="#231f20" stroke-width="0.9"/>
<line x1="231.75" y1="309.2" x2="231.75" y2="311.2" stroke="#231f20" stroke-width="0.9"/>
<line x1="242.7" y1="309.2" x2="242.7" y2="311.2" stroke="#231f20" stroke-width="0.9"/>
<line x1="253.65" y1="309.2" x2="253.65" y2="311.2" stroke="#231f20" stroke-width="0.9"/>
<line x1="264.6" y1="309.2" x2="264.6" y2="311.2" stroke="#231f20" stroke-width="0.9"/>
<line x1="275.55" y1="309.2" x2="275.55" y2="311.2" stroke="#231f20" stroke-width="0.9"/>
<line x1="286.5" y1="309.2" x2="286.5" y2="311.2" stroke="#231f20" stroke-width="0.9"/>
<line x1="297.45" y1="309.2" x2="297.45" y2="311.2" stroke="#231f20" stroke-width="0.9"/>
<text x="33.47" y="317.4" font-size="9.4" text-anchor="end" font-style="italic" transform="rotate(-45 33.47 317.4)">Tlr3</text>
<text x="44.55" y="317.4" font-size="9.4" text-anchor="end" font-style="italic" transform="rotate(-45 44.55 317.4)">Tlr7</text>
<text x="55.63" y="317.4" font-size="9.4" text-anchor="end" font-style="italic" transform="rotate(-45 55.63 317.4)">Irak1</text>
<text x="66.72" y="317.4" font-size="9.4" text-anchor="end" font-style="italic" transform="rotate(-45 66.72 317.4)">Irak4</text>
<text x="77.79" y="317.4" font-size="9.4" text-anchor="end" font-style="italic" transform="rotate(-45 77.79 317.4)">Myd88</text>
<text x="88.87" y="317.4" font-size="9.4" text-anchor="end" font-style="italic" transform="rotate(-45 88.87 317.4)">Traf3</text>
<text x="99.95" y="317.4" font-size="9.4" text-anchor="end" font-style="italic" transform="rotate(-45 99.95 317.4)">Traf6</text>
<text x="111.03" y="317.4" font-size="9.4" text-anchor="end" font-style="italic" transform="rotate(-45 111.03 317.4)">Chuk</text>
<text x="122.11" y="317.4" font-size="9.4" text-anchor="end" font-style="italic" transform="rotate(-45 122.11 317.4)">Tirap</text>
<text x="144.28" y="317.4" font-size="9.4" text-anchor="end" font-style="italic" transform="rotate(-45 144.28 317.4)">Rigi</text>
<text x="155.35" y="317.4" font-size="9.4" text-anchor="end" font-style="italic" transform="rotate(-45 155.35 317.4)">Dhx58</text>
<text x="166.44" y="317.4" font-size="9.4" text-anchor="end" font-style="italic" transform="rotate(-45 166.44 317.4)">Ifih1</text>
<text x="177.51" y="317.4" font-size="9.4" text-anchor="end" font-style="italic" transform="rotate(-45 177.51 317.4)">Mavs</text>
<text x="188.59" y="317.4" font-size="9.4" text-anchor="end" font-style="italic" transform="rotate(-45 188.59 317.4)">Irf3</text>
<text x="199.67" y="317.4" font-size="9.4" text-anchor="end" font-style="italic" transform="rotate(-45 199.67 317.4)">Irf7</text>
<text x="210.75" y="317.4" font-size="9.4" text-anchor="end" font-style="italic" transform="rotate(-45 210.75 317.4)">Tbk1</text>
<text x="232.91" y="317.4" font-size="9.4" text-anchor="end" font-style="italic" transform="rotate(-45 232.91 317.4)">Ifnar1</text>
<text x="244" y="317.4" font-size="9.4" text-anchor="end" font-style="italic" transform="rotate(-45 244 317.4)">Ifnar2</text>
<text x="255.07" y="317.4" font-size="9.4" text-anchor="end" font-style="italic" transform="rotate(-45 255.07 317.4)">Irf9</text>
<text x="266.16" y="317.4" font-size="9.4" text-anchor="end" font-style="italic" transform="rotate(-45 266.16 317.4)">Jak1</text>
<text x="277.24" y="317.4" font-size="9.4" text-anchor="end" font-style="italic" transform="rotate(-45 277.24 317.4)">Stat1</text>
<text x="288.32" y="317.4" font-size="9.4" text-anchor="end" font-style="italic" transform="rotate(-45 288.32 317.4)">Tyk2</text>
<text x="299.4" y="317.4" font-size="9.4" text-anchor="end" font-style="italic" transform="rotate(-45 299.4 317.4)">Stat2</text>
<rect x="43.2" y="190" width="4.9" height="4.9" fill="#f8d15c"/>
<text x="49.9" y="195.8" font-size="9.3">0 (ESC)</text>
<rect x="43.2" y="199.3" width="4.9" height="4.9" fill="#ec915c"/>
<text x="49.9" y="205.1" font-size="9.3">1</text>
<rect x="43.2" y="208.6" width="4.9" height="4.9" fill="#ec7631"/>
<text x="49.9" y="214.4" font-size="9.3">2</text>
<rect x="43.2" y="217.9" width="4.9" height="4.9" fill="#c55a2a"/>
<text x="49.9" y="223.7" font-size="9.3">3</text>
<rect x="43.2" y="227.2" width="4.9" height="4.9" fill="#a9489b"/>
<text x="49.9" y="233" font-size="9.3">4</text>
<rect x="43.2" y="236.5" width="4.9" height="4.9" fill="#6a4b9b"/>
<text x="49.9" y="242.3" font-size="9.3">5</text>
<rect x="43.2" y="245.8" width="4.9" height="4.9" fill="#1d4f7a"/>
<text x="49.9" y="251.6" font-size="9.3">6</text>
<rect x="43.2" y="255.1" width="4.9" height="4.9" fill="#12183c"/>
<text x="49.9" y="260.9" font-size="9.3">9</text>
<text x="136.4" y="193.8" font-size="9.3">mesoderm</text>
<text x="7" y="239" font-size="9.3" text-anchor="middle" transform="rotate(-90 7 239)">Fold change over t=0</text>
<text x="2.4" y="348.2" font-size="8" font-weight="bold">c</text>
<rect x="25.4" y="478.25" width="1.39" height="3.55" fill="#f8d15c"/>
<rect x="26.74" y="476.88" width="1.39" height="4.92" fill="#ec915c"/>
<rect x="28.09" y="477.27" width="1.39" height="4.53" fill="#ec7631"/>
<rect x="29.43" y="478.65" width="1.39" height="3.15" fill="#c55a2a"/>
<rect x="30.77" y="476.88" width="1.39" height="4.92" fill="#a9489b"/>
<rect x="32.11" y="470.97" width="1.39" height="10.83" fill="#6a4b9b"/>
<rect x="33.46" y="473.13" width="1.39" height="8.67" fill="#1d4f7a"/>
<rect x="36.33" y="477.86" width="1.39" height="3.94" fill="#f8d15c"/>
<rect x="37.67" y="480.22" width="1.39" height="1.58" fill="#ec915c"/>
<rect x="39.02" y="477.27" width="1.39" height="4.53" fill="#ec7631"/>
<rect x="40.36" y="476.09" width="1.39" height="5.71" fill="#c55a2a"/>
<rect x="41.7" y="477.27" width="1.39" height="4.53" fill="#a9489b"/>
<rect x="43.04" y="476.09" width="1.39" height="5.71" fill="#6a4b9b"/>
<rect x="44.39" y="478.25" width="1.39" height="3.55" fill="#1d4f7a"/>
<rect x="47.26" y="477.66" width="1.39" height="4.14" fill="#f8d15c"/>
<rect x="48.6" y="477.27" width="1.39" height="4.53" fill="#ec915c"/>
<rect x="49.95" y="477.27" width="1.39" height="4.53" fill="#ec7631"/>
<rect x="51.29" y="476.88" width="1.39" height="4.92" fill="#c55a2a"/>
<rect x="52.63" y="476.88" width="1.39" height="4.92" fill="#a9489b"/>
<rect x="53.97" y="476.88" width="1.39" height="4.92" fill="#6a4b9b"/>
<rect x="55.32" y="476.09" width="1.39" height="5.71" fill="#1d4f7a"/>
<rect x="58.19" y="477.66" width="1.39" height="4.14" fill="#f8d15c"/>
<rect x="59.53" y="476.88" width="1.39" height="4.92" fill="#ec915c"/>
<rect x="60.88" y="478.65" width="1.39" height="3.15" fill="#ec7631"/>
<rect x="62.22" y="479.04" width="1.39" height="2.76" fill="#c55a2a"/>
<rect x="63.56" y="479.04" width="1.39" height="2.76" fill="#a9489b"/>
<rect x="64.9" y="479.04" width="1.39" height="2.76" fill="#6a4b9b"/>
<rect x="66.25" y="477.86" width="1.39" height="3.94" fill="#1d4f7a"/>
<rect x="69.12" y="477.86" width="1.39" height="3.94" fill="#f8d15c"/>
<rect x="70.46" y="479.04" width="1.39" height="2.76" fill="#ec915c"/>
<rect x="71.81" y="478.45" width="1.39" height="3.35" fill="#ec7631"/>
<rect x="73.15" y="477.66" width="1.39" height="4.14" fill="#c55a2a"/>
<rect x="74.49" y="477.27" width="1.39" height="4.53" fill="#a9489b"/>
<rect x="75.83" y="477.27" width="1.39" height="4.53" fill="#6a4b9b"/>
<rect x="77.18" y="476.48" width="1.39" height="5.32" fill="#1d4f7a"/>
<rect x="80.05" y="478.45" width="1.39" height="3.35" fill="#f8d15c"/>
<rect x="81.39" y="478.45" width="1.39" height="3.35" fill="#ec915c"/>
<rect x="82.74" y="478.25" width="1.39" height="3.55" fill="#ec7631"/>
<rect x="84.08" y="477.07" width="1.39" height="4.73" fill="#c55a2a"/>
<rect x="85.42" y="475.3" width="1.39" height="6.5" fill="#a9489b"/>
<rect x="86.76" y="475.1" width="1.39" height="6.7" fill="#6a4b9b"/>
<rect x="88.11" y="475.5" width="1.39" height="6.3" fill="#1d4f7a"/>
<rect x="90.98" y="478.25" width="1.39" height="3.55" fill="#f8d15c"/>
<rect x="92.32" y="477.07" width="1.39" height="4.73" fill="#ec915c"/>
<rect x="93.67" y="476.28" width="1.39" height="5.52" fill="#ec7631"/>
<rect x="95.01" y="475.3" width="1.39" height="6.5" fill="#c55a2a"/>
<rect x="96.35" y="475.3" width="1.39" height="6.5" fill="#a9489b"/>
<rect x="97.69" y="475.89" width="1.39" height="5.91" fill="#6a4b9b"/>
<rect x="99.04" y="476.09" width="1.39" height="5.71" fill="#1d4f7a"/>
<rect x="101.91" y="478.25" width="1.39" height="3.55" fill="#f8d15c"/>
<rect x="103.25" y="478.25" width="1.39" height="3.55" fill="#ec915c"/>
<rect x="104.6" y="478.25" width="1.39" height="3.55" fill="#ec7631"/>
<rect x="105.94" y="478.45" width="1.39" height="3.35" fill="#c55a2a"/>
<rect x="107.28" y="478.25" width="1.39" height="3.55" fill="#a9489b"/>
<rect x="108.62" y="478.45" width="1.39" height="3.35" fill="#6a4b9b"/>
<rect x="109.97" y="479.24" width="1.39" height="2.56" fill="#1d4f7a"/>
<rect x="112.84" y="478.25" width="1.39" height="3.55" fill="#f8d15c"/>
<rect x="114.18" y="479.63" width="1.39" height="2.17" fill="#ec915c"/>
<rect x="115.53" y="478.45" width="1.39" height="3.35" fill="#ec7631"/>
<rect x="116.87" y="477.07" width="1.39" height="4.73" fill="#c55a2a"/>
<rect x="118.21" y="470.37" width="1.39" height="11.43" fill="#a9489b"/>
<rect x="119.55" y="469.59" width="1.39" height="12.21" fill="#6a4b9b"/>
<rect x="120.9" y="469.39" width="1.39" height="12.41" fill="#1d4f7a"/>
<rect x="134.7" y="478.45" width="1.39" height="3.35" fill="#f8d15c"/>
<rect x="136.04" y="477.07" width="1.39" height="4.73" fill="#ec915c"/>
<rect x="137.39" y="481.01" width="1.39" height="0.79" fill="#ec7631"/>
<rect x="138.73" y="481.41" width="1.39" height="0.39" fill="#c55a2a"/>
<rect x="140.07" y="480.62" width="1.39" height="1.18" fill="#a9489b"/>
<rect x="141.41" y="479.63" width="1.39" height="2.17" fill="#6a4b9b"/>
<rect x="142.76" y="478.45" width="1.39" height="3.35" fill="#1d4f7a"/>
<rect x="145.63" y="478.45" width="1.39" height="3.35" fill="#f8d15c"/>
<rect x="146.97" y="480.22" width="1.39" height="1.58" fill="#ec915c"/>
<rect x="148.32" y="478.45" width="1.39" height="3.35" fill="#ec7631"/>
<rect x="149.66" y="477.27" width="1.39" height="4.53" fill="#c55a2a"/>
<rect x="151" y="475.3" width="1.39" height="6.5" fill="#a9489b"/>
<rect x="152.34" y="476.28" width="1.39" height="5.52" fill="#6a4b9b"/>
<rect x="153.69" y="476.28" width="1.39" height="5.52" fill="#1d4f7a"/>
<rect x="156.56" y="478.45" width="1.39" height="3.35" fill="#f8d15c"/>
<rect x="157.9" y="480.62" width="1.39" height="1.18" fill="#ec915c"/>
<rect x="159.25" y="480.22" width="1.39" height="1.58" fill="#ec7631"/>
<rect x="160.59" y="475.5" width="1.39" height="6.3" fill="#c55a2a"/>
<rect x="161.93" y="433.34" width="1.39" height="48.46" fill="#a9489b"/>
<rect x="163.27" y="388.82" width="1.39" height="92.98" fill="#6a4b9b"/>
<rect x="164.62" y="386.06" width="1.39" height="95.74" fill="#1d4f7a"/>
<rect x="167.49" y="478.45" width="1.39" height="3.35" fill="#f8d15c"/>
<rect x="168.83" y="476.48" width="1.39" height="5.32" fill="#ec915c"/>
<rect x="170.18" y="479.04" width="1.39" height="2.76" fill="#ec7631"/>
<rect x="171.52" y="479.04" width="1.39" height="2.76" fill="#c55a2a"/>
<rect x="172.86" y="479.04" width="1.39" height="2.76" fill="#a9489b"/>
<rect x="174.2" y="477.27" width="1.39" height="4.53" fill="#6a4b9b"/>
<rect x="175.55" y="477.27" width="1.39" height="4.53" fill="#1d4f7a"/>
<rect x="178.42" y="478.45" width="1.39" height="3.35" fill="#f8d15c"/>
<rect x="179.76" y="477.27" width="1.39" height="4.53" fill="#ec915c"/>
<rect x="181.11" y="477.27" width="1.39" height="4.53" fill="#ec7631"/>
<rect x="182.45" y="477.27" width="1.39" height="4.53" fill="#c55a2a"/>
<rect x="183.79" y="477.86" width="1.39" height="3.94" fill="#a9489b"/>
<rect x="185.13" y="479.04" width="1.39" height="2.76" fill="#6a4b9b"/>
<rect x="186.48" y="477.07" width="1.39" height="4.73" fill="#1d4f7a"/>
<rect x="189.35" y="478.45" width="1.39" height="3.35" fill="#f8d15c"/>
<rect x="190.69" y="473.13" width="1.39" height="8.67" fill="#ec915c"/>
<rect x="192.04" y="470.37" width="1.39" height="11.43" fill="#ec7631"/>
<rect x="193.38" y="467.42" width="1.39" height="14.38" fill="#c55a2a"/>
<rect x="194.72" y="458.36" width="1.39" height="23.44" fill="#a9489b"/>
<rect x="196.06" y="463.87" width="1.39" height="17.93" fill="#6a4b9b"/>
<rect x="197.41" y="467.42" width="1.39" height="14.38" fill="#1d4f7a"/>
<rect x="200.28" y="478.45" width="1.39" height="3.35" fill="#f8d15c"/>
<rect x="201.62" y="476.28" width="1.39" height="5.52" fill="#ec915c"/>
<rect x="202.97" y="476.28" width="1.39" height="5.52" fill="#ec7631"/>
<rect x="204.31" y="476.68" width="1.39" height="5.12" fill="#c55a2a"/>
<rect x="205.65" y="477.66" width="1.39" height="4.14" fill="#a9489b"/>
<rect x="206.99" y="477.86" width="1.39" height="3.94" fill="#6a4b9b"/>
<rect x="208.34" y="477.27" width="1.39" height="4.53" fill="#1d4f7a"/>
<rect x="222.14" y="478.45" width="1.39" height="3.35" fill="#f8d15c"/>
<rect x="223.48" y="475.3" width="1.39" height="6.5" fill="#ec915c"/>
<rect x="224.83" y="477.07" width="1.39" height="4.73" fill="#ec7631"/>
<rect x="226.17" y="477.07" width="1.39" height="4.73" fill="#c55a2a"/>
<rect x="227.51" y="474.71" width="1.39" height="7.09" fill="#a9489b"/>
<rect x="228.85" y="474.51" width="1.39" height="7.29" fill="#6a4b9b"/>
<rect x="230.2" y="473.53" width="1.39" height="8.27" fill="#1d4f7a"/>
<rect x="233.07" y="478.45" width="1.39" height="3.35" fill="#f8d15c"/>
<rect x="234.41" y="477.27" width="1.39" height="4.53" fill="#ec915c"/>
<rect x="235.76" y="478.25" width="1.39" height="3.55" fill="#ec7631"/>
<rect x="237.1" y="476.68" width="1.39" height="5.12" fill="#c55a2a"/>
<rect x="238.44" y="471.16" width="1.39" height="10.64" fill="#a9489b"/>
<rect x="239.78" y="471.56" width="1.39" height="10.24" fill="#6a4b9b"/>
<rect x="241.13" y="469.98" width="1.39" height="11.82" fill="#1d4f7a"/>
<rect x="244" y="478.45" width="1.39" height="3.35" fill="#f8d15c"/>
<rect x="245.34" y="474.51" width="1.39" height="7.29" fill="#ec915c"/>
<rect x="246.69" y="475.89" width="1.39" height="5.91" fill="#ec7631"/>
<rect x="248.03" y="476.48" width="1.39" height="5.32" fill="#c55a2a"/>
<rect x="249.37" y="473.92" width="1.39" height="7.88" fill="#a9489b"/>
<rect x="250.71" y="472.54" width="1.39" height="9.26" fill="#6a4b9b"/>
<rect x="252.06" y="470.57" width="1.39" height="11.23" fill="#1d4f7a"/>
<rect x="254.93" y="478.45" width="1.39" height="3.35" fill="#f8d15c"/>
<rect x="256.27" y="477.66" width="1.39" height="4.14" fill="#ec915c"/>
<rect x="257.62" y="477.27" width="1.39" height="4.53" fill="#ec7631"/>
<rect x="258.96" y="477.07" width="1.39" height="4.73" fill="#c55a2a"/>
<rect x="260.3" y="475.69" width="1.39" height="6.11" fill="#a9489b"/>
<rect x="261.64" y="474.71" width="1.39" height="7.09" fill="#6a4b9b"/>
<rect x="262.99" y="473.53" width="1.39" height="8.27" fill="#1d4f7a"/>
<rect x="265.86" y="478.45" width="1.39" height="3.35" fill="#f8d15c"/>
<rect x="267.2" y="476.68" width="1.39" height="5.12" fill="#ec915c"/>
<rect x="268.55" y="479.83" width="1.39" height="1.97" fill="#ec7631"/>
<rect x="269.89" y="480.62" width="1.39" height="1.18" fill="#c55a2a"/>
<rect x="271.23" y="477.27" width="1.39" height="4.53" fill="#a9489b"/>
<rect x="272.57" y="475.69" width="1.39" height="6.11" fill="#6a4b9b"/>
<rect x="273.92" y="474.51" width="1.39" height="7.29" fill="#1d4f7a"/>
<rect x="276.79" y="478.25" width="1.39" height="3.55" fill="#f8d15c"/>
<rect x="278.13" y="477.66" width="1.39" height="4.14" fill="#ec915c"/>
<rect x="279.48" y="479.63" width="1.39" height="2.17" fill="#ec7631"/>
<rect x="280.82" y="480.22" width="1.39" height="1.58" fill="#c55a2a"/>
<rect x="282.16" y="480.22" width="1.39" height="1.58" fill="#a9489b"/>
<rect x="283.5" y="480.22" width="1.39" height="1.58" fill="#6a4b9b"/>
<rect x="284.85" y="479.04" width="1.39" height="2.76" fill="#1d4f7a"/>
<rect x="287.72" y="478.45" width="1.39" height="3.35" fill="#f8d15c"/>
<rect x="289.06" y="473.33" width="1.39" height="8.47" fill="#ec915c"/>
<rect x="290.41" y="473.33" width="1.39" height="8.47" fill="#ec7631"/>
<rect x="291.75" y="473.92" width="1.39" height="7.88" fill="#c55a2a"/>
<rect x="293.09" y="477.07" width="1.39" height="4.73" fill="#a9489b"/>
<rect x="294.43" y="474.51" width="1.39" height="7.29" fill="#6a4b9b"/>
<rect x="295.78" y="471.36" width="1.39" height="10.44" fill="#1d4f7a"/>
<line x1="24.6" y1="363.6" x2="24.6" y2="482.3" stroke="#231f20" stroke-width="1"/>
<line x1="24.1" y1="481.8" x2="298.35" y2="481.8" stroke="#231f20" stroke-width="1.1"/>
<line x1="22.1" y1="481.8" x2="24.6" y2="481.8" stroke="#231f20" stroke-width="1"/>
<text x="21.4" y="483.3" font-size="7.5" text-anchor="end">0</text>
<line x1="22.1" y1="462.1" x2="24.6" y2="462.1" stroke="#231f20" stroke-width="1"/>
<text x="21.4" y="463.6" font-size="7.5" text-anchor="end">5</text>
<line x1="22.1" y1="442.4" x2="24.6" y2="442.4" stroke="#231f20" stroke-width="1"/>
<text x="21.4" y="443.9" font-size="7.5" text-anchor="end">10</text>
<line x1="22.1" y1="422.7" x2="24.6" y2="422.7" stroke="#231f20" stroke-width="1"/>
<text x="21.4" y="424.2" font-size="7.5" text-anchor="end">15</text>
<line x1="22.1" y1="403" x2="24.6" y2="403" stroke="#231f20" stroke-width="1"/>
<text x="21.4" y="404.5" font-size="7.5" text-anchor="end">20</text>
<line x1="22.1" y1="383.3" x2="24.6" y2="383.3" stroke="#231f20" stroke-width="1"/>
<text x="21.4" y="384.8" font-size="7.5" text-anchor="end">25</text>
<line x1="22.1" y1="363.6" x2="24.6" y2="363.6" stroke="#231f20" stroke-width="1"/>
<text x="21.4" y="365.1" font-size="7.5" text-anchor="end">30</text>
<line x1="24.6" y1="481.8" x2="24.6" y2="483.8" stroke="#231f20" stroke-width="0.9"/>
<line x1="35.53" y1="481.8" x2="35.53" y2="483.8" stroke="#231f20" stroke-width="0.9"/>
<line x1="46.46" y1="481.8" x2="46.46" y2="483.8" stroke="#231f20" stroke-width="0.9"/>
<line x1="57.39" y1="481.8" x2="57.39" y2="483.8" stroke="#231f20" stroke-width="0.9"/>
<line x1="68.32" y1="481.8" x2="68.32" y2="483.8" stroke="#231f20" stroke-width="0.9"/>
<line x1="79.25" y1="481.8" x2="79.25" y2="483.8" stroke="#231f20" stroke-width="0.9"/>
<line x1="90.18" y1="481.8" x2="90.18" y2="483.8" stroke="#231f20" stroke-width="0.9"/>
<line x1="101.11" y1="481.8" x2="101.11" y2="483.8" stroke="#231f20" stroke-width="0.9"/>
<line x1="112.04" y1="481.8" x2="112.04" y2="483.8" stroke="#231f20" stroke-width="0.9"/>
<line x1="122.97" y1="481.8" x2="122.97" y2="483.8" stroke="#231f20" stroke-width="0.9"/>
<line x1="133.9" y1="481.8" x2="133.9" y2="483.8" stroke="#231f20" stroke-width="0.9"/>
<line x1="144.83" y1="481.8" x2="144.83" y2="483.8" stroke="#231f20" stroke-width="0.9"/>
<line x1="155.76" y1="481.8" x2="155.76" y2="483.8" stroke="#231f20" stroke-width="0.9"/>
<line x1="166.69" y1="481.8" x2="166.69" y2="483.8" stroke="#231f20" stroke-width="0.9"/>
<line x1="177.62" y1="481.8" x2="177.62" y2="483.8" stroke="#231f20" stroke-width="0.9"/>
<line x1="188.55" y1="481.8" x2="188.55" y2="483.8" stroke="#231f20" stroke-width="0.9"/>
<line x1="199.48" y1="481.8" x2="199.48" y2="483.8" stroke="#231f20" stroke-width="0.9"/>
<line x1="210.41" y1="481.8" x2="210.41" y2="483.8" stroke="#231f20" stroke-width="0.9"/>
<line x1="221.34" y1="481.8" x2="221.34" y2="483.8" stroke="#231f20" stroke-width="0.9"/>
<line x1="232.27" y1="481.8" x2="232.27" y2="483.8" stroke="#231f20" stroke-width="0.9"/>
<line x1="243.2" y1="481.8" x2="243.2" y2="483.8" stroke="#231f20" stroke-width="0.9"/>
<line x1="254.13" y1="481.8" x2="254.13" y2="483.8" stroke="#231f20" stroke-width="0.9"/>
<line x1="265.06" y1="481.8" x2="265.06" y2="483.8" stroke="#231f20" stroke-width="0.9"/>
<line x1="275.99" y1="481.8" x2="275.99" y2="483.8" stroke="#231f20" stroke-width="0.9"/>
<line x1="286.92" y1="481.8" x2="286.92" y2="483.8" stroke="#231f20" stroke-width="0.9"/>
<line x1="297.85" y1="481.8" x2="297.85" y2="483.8" stroke="#231f20" stroke-width="0.9"/>
<text x="34.37" y="490" font-size="9.4" text-anchor="end" font-style="italic" transform="rotate(-45 34.37 490)">Tlr3</text>
<text x="45.42" y="490" font-size="9.4" text-anchor="end" font-style="italic" transform="rotate(-45 45.42 490)">Tlr7</text>
<text x="56.48" y="490" font-size="9.4" text-anchor="end" font-style="italic" transform="rotate(-45 56.48 490)">Irak1</text>
<text x="67.55" y="490" font-size="9.4" text-anchor="end" font-style="italic" transform="rotate(-45 67.55 490)">Irak4</text>
<text x="78.61" y="490" font-size="9.4" text-anchor="end" font-style="italic" transform="rotate(-45 78.61 490)">Myd88</text>
<text x="89.67" y="490" font-size="9.4" text-anchor="end" font-style="italic" transform="rotate(-45 89.67 490)">Traf3</text>
<text x="100.73" y="490" font-size="9.4" text-anchor="end" font-style="italic" transform="rotate(-45 100.73 490)">Traf6</text>
<text x="111.79" y="490" font-size="9.4" text-anchor="end" font-style="italic" transform="rotate(-45 111.79 490)">Chuk</text>
<text x="122.85" y="490" font-size="9.4" text-anchor="end" font-style="italic" transform="rotate(-45 122.85 490)">Tirap</text>
<text x="144.97" y="490" font-size="9.4" text-anchor="end" font-style="italic" transform="rotate(-45 144.97 490)">Rigi</text>
<text x="156.03" y="490" font-size="9.4" text-anchor="end" font-style="italic" transform="rotate(-45 156.03 490)">Dhx58</text>
<text x="167.09" y="490" font-size="9.4" text-anchor="end" font-style="italic" transform="rotate(-45 167.09 490)">Ifih1</text>
<text x="178.15" y="490" font-size="9.4" text-anchor="end" font-style="italic" transform="rotate(-45 178.15 490)">Mavs</text>
<text x="189.21" y="490" font-size="9.4" text-anchor="end" font-style="italic" transform="rotate(-45 189.21 490)">Irf3</text>
<text x="200.27" y="490" font-size="9.4" text-anchor="end" font-style="italic" transform="rotate(-45 200.27 490)">Irf7</text>
<text x="211.33" y="490" font-size="9.4" text-anchor="end" font-style="italic" transform="rotate(-45 211.33 490)">Tbk1</text>
<text x="233.45" y="490" font-size="9.4" text-anchor="end" font-style="italic" transform="rotate(-45 233.45 490)">Ifnar1</text>
<text x="244.51" y="490" font-size="9.4" text-anchor="end" font-style="italic" transform="rotate(-45 244.51 490)">Ifnar2</text>
<text x="255.57" y="490" font-size="9.4" text-anchor="end" font-style="italic" transform="rotate(-45 255.57 490)">Irf9</text>
<text x="266.62" y="490" font-size="9.4" text-anchor="end" font-style="italic" transform="rotate(-45 266.62 490)">Jak1</text>
<text x="277.69" y="490" font-size="9.4" text-anchor="end" font-style="italic" transform="rotate(-45 277.69 490)">Stat1</text>
<text x="288.75" y="490" font-size="9.4" text-anchor="end" font-style="italic" transform="rotate(-45 288.75 490)">Tyk2</text>
<text x="299.81" y="490" font-size="9.4" text-anchor="end" font-style="italic" transform="rotate(-45 299.81 490)">Stat2</text>
<rect x="43.5" y="363.7" width="4.5" height="4.5" fill="#f8d15c"/>
<text x="49.8" y="368.47" font-size="7">0 (ESC)</text>
<rect x="43.5" y="373" width="4.5" height="4.5" fill="#ec915c"/>
<text x="49.8" y="377.77" font-size="7">1</text>
<rect x="43.5" y="382.3" width="4.5" height="4.5" fill="#ec7631"/>
<text x="49.8" y="387.07" font-size="7">2</text>
<rect x="43.5" y="391.6" width="4.5" height="4.5" fill="#c55a2a"/>
<text x="49.8" y="396.37" font-size="7">3</text>
<rect x="43.5" y="400.9" width="4.5" height="4.5" fill="#a9489b"/>
<text x="49.8" y="405.67" font-size="7">4</text>
<rect x="43.5" y="410.2" width="4.5" height="4.5" fill="#6a4b9b"/>
<text x="49.8" y="414.97" font-size="7">5</text>
<rect x="43.5" y="419.5" width="4.5" height="4.5" fill="#1d4f7a"/>
<text x="49.8" y="424.27" font-size="7">6</text>
<text x="137.3" y="365" font-size="8.2">endoderm</text>
<text x="6.7" y="422.5" font-size="8.2" text-anchor="middle" transform="rotate(-90 6.7 422.5)">Fold change over t=0</text>
<line x1="23" y1="515.2" x2="122.2" y2="515.2" stroke="#231f20" stroke-width="1.1"/>
<text x="72.6" y="528.5" font-size="9.3" text-anchor="middle">TLR</text>
<text x="72.6" y="540.2" font-size="9.3" text-anchor="middle">pathway</text>
<line x1="133.1" y1="515.2" x2="210.6" y2="515.2" stroke="#231f20" stroke-width="1.1"/>
<text x="171.85" y="528.5" font-size="9.3" text-anchor="middle">RLR</text>
<text x="171.85" y="540.2" font-size="9.3" text-anchor="middle">pathway</text>
<line x1="221.2" y1="515.2" x2="298.7" y2="515.2" stroke="#231f20" stroke-width="1.1"/>
<text x="259.95" y="528.5" font-size="9.3" text-anchor="middle">JAK/STAT</text>
<text x="259.95" y="540.2" font-size="9.3" text-anchor="middle">pathway</text>
<text x="325.8" y="7.5" font-size="8.5" font-weight="bold">d</text>
<rect x="373.9" y="40.3" width="7.9" height="52" fill="#f8bb2e" stroke="#262628" stroke-width="1.2"/>
<rect x="393.4" y="91" width="7.8" height="1.3" fill="#f8bb2e" stroke="#262628" stroke-width="1.2"/>
<rect x="423.8" y="40.3" width="8.1" height="52" fill="#f8bb2e" stroke="#262628" stroke-width="1.2"/>
<rect x="444.1" y="91.78" width="7.8" height="0.52" fill="#f8bb2e" stroke="#262628" stroke-width="1.2"/>
<circle cx="377.8" cy="40.2" r="1.1" fill="none" stroke="#3a3a3a" stroke-width="0.7"/>
<circle cx="377.8" cy="41.8" r="1.1" fill="none" stroke="#3a3a3a" stroke-width="0.7"/>
<line x1="427.8" y1="40.3" x2="427.8" y2="34.3" stroke="#3a3a3a" stroke-width="0.7"/>
<line x1="426.6" y1="34.3" x2="429" y2="34.3" stroke="#3a3a3a" stroke-width="0.7"/>
<circle cx="427.8" cy="28.5" r="1.1" fill="none" stroke="#3a3a3a" stroke-width="0.7"/>
<circle cx="427.8" cy="45.5" r="1.1" fill="none" stroke="#3a3a3a" stroke-width="0.7"/>
<circle cx="397.3" cy="91" r="1.1" fill="none" stroke="#3a3a3a" stroke-width="0.7"/>
<line x1="362.4" y1="19.5" x2="362.4" y2="92.8" stroke="#231f20" stroke-width="1.1"/>
<line x1="361.9" y1="92.3" x2="462.6" y2="92.3" stroke="#231f20" stroke-width="1.1"/>
<line x1="411.2" y1="92.3" x2="411.2" y2="94.5" stroke="#231f20" stroke-width="0.9"/>
<line x1="357.9" y1="92.3" x2="362.4" y2="92.3" stroke="#231f20" stroke-width="1"/>
<text x="356.4" y="93.8" font-size="9.5" text-anchor="end">0</text>
<line x1="357.9" y1="71.5" x2="362.4" y2="71.5" stroke="#231f20" stroke-width="1"/>
<text x="356.4" y="73" font-size="9.5" text-anchor="end">0.4</text>
<line x1="357.9" y1="50.7" x2="362.4" y2="50.7" stroke="#231f20" stroke-width="1"/>
<text x="356.4" y="52.2" font-size="9.5" text-anchor="end">0.8</text>
<line x1="357.9" y1="29.9" x2="362.4" y2="29.9" stroke="#231f20" stroke-width="1"/>
<text x="356.4" y="31.4" font-size="9.5" text-anchor="end">1.2</text>
<text x="375.5" y="102.3" font-size="9" text-anchor="middle">ESC</text>
<text x="399" y="102.3" font-size="9" text-anchor="middle">diff</text>
<text x="427.4" y="102.3" font-size="9" text-anchor="middle">ESC</text>
<text x="450.7" y="102.3" font-size="9" text-anchor="middle">diff</text>
<text x="389.7" y="13.2" font-size="9" text-anchor="middle" font-style="italic">Nanog</text>
<text x="440.5" y="12.8" font-size="9" text-anchor="middle" font-style="italic">Pou5f1</text>
<line x1="379.9" y1="31.6" x2="406.5" y2="31.6" stroke="#231f20" stroke-width="1.2"/>
<polygon points="387.60,24.05 388.17,25.42 389.64,25.54 388.52,26.50 388.86,27.94 387.60,27.17 386.34,27.94 386.68,26.50 385.56,25.54 387.03,25.42" fill="#2a2a2a"/>
<polygon points="392.30,24.05 392.87,25.42 394.34,25.54 393.22,26.50 393.56,27.94 392.30,27.17 391.04,27.94 391.38,26.50 390.26,25.54 391.73,25.42" fill="#2a2a2a"/>
<polygon points="397.00,24.05 397.57,25.42 399.04,25.54 397.92,26.50 398.26,27.94 397.00,27.17 395.74,27.94 396.08,26.50 394.96,25.54 396.43,25.42" fill="#2a2a2a"/>
<line x1="427" y1="23.5" x2="453.9" y2="23.5" stroke="#231f20" stroke-width="1.1"/>
<polygon points="437.95,16.75 438.52,18.12 439.99,18.24 438.87,19.20 439.21,20.64 437.95,19.87 436.69,20.64 437.03,19.20 435.91,18.24 437.38,18.12" fill="#2a2a2a"/>
<polygon points="442.65,16.75 443.22,18.12 444.69,18.24 443.57,19.20 443.91,20.64 442.65,19.87 441.39,20.64 441.73,19.20 440.61,18.24 442.08,18.12" fill="#2a2a2a"/>
<text x="324.2" y="59.1" font-size="9.3" text-anchor="middle" transform="rotate(-90 324.2 59.1)">FC diff over ESC</text>
<text x="335.6" y="59.1" font-size="9.3" text-anchor="middle" transform="rotate(-90 335.6 59.1)">(norm to <tspan font-style="italic">Gapdh</tspan>)</text>
<text x="496.2" y="8" font-size="8.5" font-weight="bold">e</text>
<rect x="535.9" y="88.6" width="8.4" height="3.2" fill="#f8bb2e" stroke="#262628" stroke-width="1.2"/>
<rect x="564.1" y="53.1" width="8.1" height="38.7" fill="#0a508b" stroke="#262628" stroke-width="1.2"/>
<rect x="600.8" y="88.74" width="8.3" height="3.06" fill="#f8bb2e" stroke="#262628" stroke-width="1.2"/>
<rect x="627.8" y="36.51" width="8.3" height="55.29" fill="#0a508b" stroke="#262628" stroke-width="1.2"/>
<circle cx="540.1" cy="87.5" r="1.1" fill="none" stroke="#3a3a3a" stroke-width="0.7"/>
<circle cx="538.2" cy="90" r="1.1" fill="none" stroke="#3a3a3a" stroke-width="0.7"/>
<circle cx="542" cy="90" r="1.1" fill="none" stroke="#3a3a3a" stroke-width="0.7"/>
<line x1="568.1" y1="53" x2="568.1" y2="49" stroke="#3a3a3a" stroke-width="0.7"/>
<line x1="566.9" y1="49" x2="569.3" y2="49" stroke="#3a3a3a" stroke-width="0.7"/>
<circle cx="568.1" cy="45.2" r="1.1" fill="none" stroke="#3a3a3a" stroke-width="0.7"/>
<circle cx="568.1" cy="55.5" r="1.1" fill="none" stroke="#3a3a3a" stroke-width="0.7"/>
<circle cx="568.1" cy="58.5" r="1.1" fill="none" stroke="#3a3a3a" stroke-width="0.7"/>
<circle cx="605" cy="87" r="1.1" fill="none" stroke="#3a3a3a" stroke-width="0.7"/>
<circle cx="603.1" cy="89.8" r="1.1" fill="none" stroke="#3a3a3a" stroke-width="0.7"/>
<circle cx="606.9" cy="89.8" r="1.1" fill="none" stroke="#3a3a3a" stroke-width="0.7"/>
<line x1="632" y1="36.5" x2="632" y2="31.5" stroke="#3a3a3a" stroke-width="0.7"/>
<line x1="630.8" y1="31.5" x2="633.2" y2="31.5" stroke="#3a3a3a" stroke-width="0.7"/>
<circle cx="632" cy="26" r="1.1" fill="none" stroke="#3a3a3a" stroke-width="0.7"/>
<circle cx="632" cy="38.5" r="1.1" fill="none" stroke="#3a3a3a" stroke-width="0.7"/>
<circle cx="632" cy="42" r="1.1" fill="none" stroke="#3a3a3a" stroke-width="0.7"/>
<line x1="525" y1="18" x2="525" y2="92.3" stroke="#231f20" stroke-width="1.1"/>
<line x1="524.5" y1="91.8" x2="644.4" y2="91.8" stroke="#231f20" stroke-width="1.1"/>
<line x1="586.4" y1="91.8" x2="586.4" y2="94" stroke="#231f20" stroke-width="0.9"/>
<line x1="521" y1="91.8" x2="525" y2="91.8" stroke="#231f20" stroke-width="1"/>
<text x="517" y="94.9" font-size="9.6" text-anchor="end">0</text>
<line x1="521" y1="77.25" x2="525" y2="77.25" stroke="#231f20" stroke-width="1"/>
<text x="517" y="80.35" font-size="9.6" text-anchor="end">5</text>
<line x1="521" y1="62.7" x2="525" y2="62.7" stroke="#231f20" stroke-width="1"/>
<text x="517" y="65.8" font-size="9.6" text-anchor="end">10</text>
<line x1="521" y1="48.15" x2="525" y2="48.15" stroke="#231f20" stroke-width="1"/>
<text x="517" y="51.25" font-size="9.6" text-anchor="end">15</text>
<line x1="521" y1="33.6" x2="525" y2="33.6" stroke="#231f20" stroke-width="1"/>
<text x="517" y="36.7" font-size="9.6" text-anchor="end">20</text>
<line x1="521" y1="19.05" x2="525" y2="19.05" stroke="#231f20" stroke-width="1"/>
<text x="517" y="22.15" font-size="9.6" text-anchor="end">25</text>
<text x="540.1" y="101.6" font-size="8.4" text-anchor="middle">ESC</text>
<text x="567.2" y="101.6" font-size="8.4" text-anchor="middle">diff</text>
<text x="603.8" y="101.6" font-size="8.4" text-anchor="middle">ESC</text>
<text x="631.6" y="101.6" font-size="8.4" text-anchor="middle">diff</text>
<text x="557.4" y="13" font-size="8.2" text-anchor="middle" font-style="italic">Sox17</text>
<text x="624.6" y="12.6" font-size="8.4" text-anchor="middle" font-style="italic">Foxa2</text>
<line x1="540.7" y1="39.6" x2="567.3" y2="39.6" stroke="#231f20" stroke-width="1.1"/>
<polygon points="548.90,32.75 549.47,34.12 550.94,34.24 549.82,35.20 550.16,36.64 548.90,35.87 547.64,36.64 547.98,35.20 546.86,34.24 548.33,34.12" fill="#2a2a2a"/>
<polygon points="553.60,32.75 554.17,34.12 555.64,34.24 554.52,35.20 554.86,36.64 553.60,35.87 552.34,36.64 552.68,35.20 551.56,34.24 553.03,34.12" fill="#2a2a2a"/>
<polygon points="558.30,32.75 558.87,34.12 560.34,34.24 559.22,35.20 559.56,36.64 558.30,35.87 557.04,36.64 557.38,35.20 556.26,34.24 557.73,34.12" fill="#2a2a2a"/>
<line x1="605.2" y1="20.7" x2="631.6" y2="20.7" stroke="#231f20" stroke-width="1.1"/>
<polygon points="613.70,13.15 614.27,14.52 615.74,14.64 614.62,15.60 614.96,17.04 613.70,16.27 612.44,17.04 612.78,15.60 611.66,14.64 613.13,14.52" fill="#2a2a2a"/>
<polygon points="618.40,13.15 618.97,14.52 620.44,14.64 619.32,15.60 619.66,17.04 618.40,16.27 617.14,17.04 617.48,15.60 616.36,14.64 617.83,14.52" fill="#2a2a2a"/>
<polygon points="623.10,13.15 623.67,14.52 625.14,14.64 624.02,15.60 624.36,17.04 623.10,16.27 621.84,17.04 622.18,15.60 621.06,14.64 622.53,14.52" fill="#2a2a2a"/>
<text x="491.2" y="55.3" font-size="9.2" text-anchor="middle" transform="rotate(-90 491.2 55.3)">FC diff over ESC</text>
<text x="501.2" y="55.3" font-size="9.4" text-anchor="middle" transform="rotate(-90 501.2 55.3)">(norm to <tspan font-style="italic">Gapdh</tspan>)</text>
<text x="325.2" y="121.6" font-size="8.5" font-weight="bold">f</text>
<line x1="361.4" y1="134" x2="361.4" y2="208.4" stroke="#231f20" stroke-width="1.1"/>
<line x1="360.9" y1="207.9" x2="475.9" y2="207.9" stroke="#231f20" stroke-width="1.1"/>
<rect x="375.3" y="202.52" width="7.9" height="5.38" fill="#0a508b" stroke="#262628" stroke-width="1.2"/>
<rect x="397" y="145.52" width="8.1" height="62.38" fill="#0a508b" stroke="#262628" stroke-width="1.2"/>
<rect x="417.2" y="207.03" width="7" height="0.87" fill="#0a508b" stroke="#262628" stroke-width="1.2"/>
<rect x="438.3" y="207.17" width="8.4" height="0.73" fill="#0a508b" stroke="#262628" stroke-width="1.2"/>
<rect x="460.2" y="199.9" width="7.5" height="8" fill="#0a508b" stroke="#262628" stroke-width="1.2"/>
<line x1="389" y1="207.9" x2="389" y2="210.1" stroke="#231f20" stroke-width="0.9"/>
<line x1="410.5" y1="207.9" x2="410.5" y2="210.1" stroke="#231f20" stroke-width="0.9"/>
<line x1="432" y1="207.9" x2="432" y2="210.1" stroke="#231f20" stroke-width="0.9"/>
<line x1="453.4" y1="207.9" x2="453.4" y2="210.1" stroke="#231f20" stroke-width="0.9"/>
<line x1="357.9" y1="207.9" x2="361.4" y2="207.9" stroke="#231f20" stroke-width="1"/>
<text x="357.4" y="211.3" font-size="9.3" text-anchor="end">0</text>
<line x1="357.9" y1="193.36" x2="361.4" y2="193.36" stroke="#231f20" stroke-width="1"/>
<text x="357.4" y="196.76" font-size="9.3" text-anchor="end">100</text>
<line x1="357.9" y1="178.82" x2="361.4" y2="178.82" stroke="#231f20" stroke-width="1"/>
<text x="357.4" y="182.22" font-size="9.3" text-anchor="end">200</text>
<line x1="357.9" y1="164.28" x2="361.4" y2="164.28" stroke="#231f20" stroke-width="1"/>
<text x="357.4" y="167.68" font-size="9.3" text-anchor="end">300</text>
<line x1="357.9" y1="149.74" x2="361.4" y2="149.74" stroke="#231f20" stroke-width="1"/>
<text x="357.4" y="153.14" font-size="9.3" text-anchor="end">400</text>
<line x1="357.9" y1="135.2" x2="361.4" y2="135.2" stroke="#231f20" stroke-width="1"/>
<text x="357.4" y="138.6" font-size="9.3" text-anchor="end">500</text>
<line x1="379.2" y1="203" x2="379.2" y2="201" stroke="#3a3a3a" stroke-width="0.7"/>
<line x1="378" y1="201" x2="380.4" y2="201" stroke="#3a3a3a" stroke-width="0.7"/>
<circle cx="379.2" cy="202.3" r="1.1" fill="none" stroke="#3a3a3a" stroke-width="0.7"/>
<line x1="401" y1="145.3" x2="401" y2="141" stroke="#3a3a3a" stroke-width="0.7"/>
<line x1="399.8" y1="141" x2="402.2" y2="141" stroke="#3a3a3a" stroke-width="0.7"/>
<circle cx="401" cy="137.2" r="1.1" fill="none" stroke="#3a3a3a" stroke-width="0.7"/>
<circle cx="401" cy="149" r="1.1" fill="none" stroke="#3a3a3a" stroke-width="0.7"/>
<circle cx="401" cy="153" r="1.1" fill="none" stroke="#3a3a3a" stroke-width="0.7"/>
<circle cx="420.7" cy="207" r="1.1" fill="none" stroke="#3a3a3a" stroke-width="0.7"/>
<circle cx="442.5" cy="207.2" r="1.1" fill="none" stroke="#3a3a3a" stroke-width="0.7"/>
<line x1="464" y1="200.2" x2="464" y2="196" stroke="#3a3a3a" stroke-width="0.7"/>
<line x1="462.8" y1="196" x2="465.2" y2="196" stroke="#3a3a3a" stroke-width="0.7"/>
<circle cx="464" cy="196.5" r="1.1" fill="none" stroke="#3a3a3a" stroke-width="0.7"/>
<circle cx="464" cy="201.5" r="1.1" fill="none" stroke="#3a3a3a" stroke-width="0.7"/>
<polygon points="377.15,192.65 377.72,194.02 379.19,194.14 378.07,195.10 378.41,196.54 377.15,195.77 375.89,196.54 376.23,195.10 375.11,194.14 376.58,194.02" fill="#2a2a2a"/>
<polygon points="381.85,192.65 382.42,194.02 383.89,194.14 382.77,195.10 383.11,196.54 381.85,195.77 380.59,196.54 380.93,195.10 379.81,194.14 381.28,194.02" fill="#2a2a2a"/>
<polygon points="396.50,128.65 397.07,130.02 398.54,130.14 397.42,131.10 397.76,132.54 396.50,131.77 395.24,132.54 395.58,131.10 394.46,130.14 395.93,130.02" fill="#2a2a2a"/>
<polygon points="401.20,128.65 401.77,130.02 403.24,130.14 402.12,131.10 402.46,132.54 401.20,131.77 399.94,132.54 400.28,131.10 399.16,130.14 400.63,130.02" fill="#2a2a2a"/>
<polygon points="405.90,128.65 406.47,130.02 407.94,130.14 406.82,131.10 407.16,132.54 405.90,131.77 404.64,132.54 404.98,131.10 403.86,130.14 405.33,130.02" fill="#2a2a2a"/>
<polygon points="420.80,198.95 421.37,200.32 422.84,200.44 421.72,201.40 422.06,202.84 420.80,202.07 419.54,202.84 419.88,201.40 418.76,200.44 420.23,200.32" fill="#2a2a2a"/>
<polygon points="442.50,191.35 443.07,192.72 444.54,192.84 443.42,193.80 443.76,195.24 442.50,194.47 441.24,195.24 441.58,193.80 440.46,192.84 441.93,192.72" fill="#2a2a2a"/>
<polygon points="464.00,188.65 464.57,190.02 466.04,190.14 464.92,191.10 465.26,192.54 464.00,191.77 462.74,192.54 463.08,191.10 461.96,190.14 463.43,190.02" fill="#2a2a2a"/>
<text x="382.2" y="216" font-size="9.4" text-anchor="end" font-style="italic" transform="rotate(-40 382.2 216)">Rigi</text>
<text x="403.7" y="216" font-size="9.4" text-anchor="end" font-style="italic" transform="rotate(-40 403.7 216)">Ifih1</text>
<text x="425.2" y="216" font-size="9.4" text-anchor="end" font-style="italic" transform="rotate(-40 425.2 216)">Mavs</text>
<text x="446.7" y="216" font-size="9.4" text-anchor="end" font-style="italic" transform="rotate(-40 446.7 216)">Irf3</text>
<text x="468.2" y="216" font-size="9.4" text-anchor="end" font-style="italic" transform="rotate(-40 468.2 216)">Irf7</text>
<text x="322.9" y="171.45" font-size="9.3" text-anchor="middle" transform="rotate(-90 322.9 171.45)">FC diff over ESC</text>
<text x="334.2" y="171.45" font-size="9.3" text-anchor="middle" transform="rotate(-90 334.2 171.45)">(norm to <tspan font-style="italic">Gapdh</tspan>)</text>
<text x="326" y="251.3" font-size="8.5" font-weight="bold">g</text>
<line x1="364.8" y1="256.9" x2="364.8" y2="349.2" stroke="#231f20" stroke-width="1.1"/>
<line x1="361.3" y1="348.7" x2="441" y2="348.7" stroke="#231f20" stroke-width="1.1"/>
<line x1="360.8" y1="348.7" x2="364.8" y2="348.7" stroke="#231f20" stroke-width="1"/>
<text x="360.6" y="350.8" font-size="9.5" text-anchor="end">1e-6</text>
<line x1="360.8" y1="333.48" x2="364.8" y2="333.48" stroke="#231f20" stroke-width="1"/>
<text x="360.6" y="335.58" font-size="9.5" text-anchor="end">1e-5</text>
<line x1="360.8" y1="318.26" x2="364.8" y2="318.26" stroke="#231f20" stroke-width="1"/>
<text x="360.6" y="320.36" font-size="9.5" text-anchor="end">1e-4</text>
<line x1="360.8" y1="303.04" x2="364.8" y2="303.04" stroke="#231f20" stroke-width="1"/>
<text x="360.6" y="305.14" font-size="9.5" text-anchor="end">1e-3</text>
<line x1="360.8" y1="287.82" x2="364.8" y2="287.82" stroke="#231f20" stroke-width="1"/>
<text x="360.6" y="289.92" font-size="9.5" text-anchor="end">1e-2</text>
<line x1="360.8" y1="272.6" x2="364.8" y2="272.6" stroke="#231f20" stroke-width="1"/>
<text x="360.6" y="274.7" font-size="9.5" text-anchor="end">1e-1</text>
<line x1="360.8" y1="257.38" x2="364.8" y2="257.38" stroke="#231f20" stroke-width="1"/>
<text x="360.6" y="259.48" font-size="9.5" text-anchor="end">1e0</text>
<rect x="370" y="336.1" width="7.1" height="12.6" fill="#f8bb2e" stroke="#262628" stroke-width="1.2"/>
<line x1="373.55" y1="336.1" x2="373.55" y2="333.9" stroke="#3a3a3a" stroke-width="0.7"/>
<line x1="372.55" y1="333.9" x2="374.55" y2="333.9" stroke="#3a3a3a" stroke-width="0.7"/>
<circle cx="373.55" cy="334.7" r="1.1" fill="none" stroke="#3a3a3a" stroke-width="0.7"/>
<circle cx="373.55" cy="337.7" r="1.1" fill="none" stroke="#3a3a3a" stroke-width="0.7"/>
<rect x="386.1" y="328.3" width="7.4" height="20.4" fill="#f8bb2e" stroke="#262628" stroke-width="1.2"/>
<line x1="389.8" y1="328.3" x2="389.8" y2="326.1" stroke="#3a3a3a" stroke-width="0.7"/>
<line x1="388.8" y1="326.1" x2="390.8" y2="326.1" stroke="#3a3a3a" stroke-width="0.7"/>
<circle cx="389.8" cy="326.9" r="1.1" fill="none" stroke="#3a3a3a" stroke-width="0.7"/>
<circle cx="389.8" cy="329.9" r="1.1" fill="none" stroke="#3a3a3a" stroke-width="0.7"/>
<rect x="407.6" y="300.2" width="7.4" height="48.5" fill="#0a508b" stroke="#262628" stroke-width="1.2"/>
<line x1="411.3" y1="300.2" x2="411.3" y2="298" stroke="#3a3a3a" stroke-width="0.7"/>
<line x1="410.3" y1="298" x2="412.3" y2="298" stroke="#3a3a3a" stroke-width="0.7"/>
<circle cx="411.3" cy="298.8" r="1.1" fill="none" stroke="#3a3a3a" stroke-width="0.7"/>
<circle cx="411.3" cy="301.8" r="1.1" fill="none" stroke="#3a3a3a" stroke-width="0.7"/>
<rect x="424.5" y="273.4" width="7.6" height="75.3" fill="#0a508b" stroke="#262628" stroke-width="1.2"/>
<line x1="428.3" y1="273.4" x2="428.3" y2="271.2" stroke="#3a3a3a" stroke-width="0.7"/>
<line x1="427.3" y1="271.2" x2="429.3" y2="271.2" stroke="#3a3a3a" stroke-width="0.7"/>
<circle cx="428.3" cy="272" r="1.1" fill="none" stroke="#3a3a3a" stroke-width="0.7"/>
<circle cx="428.3" cy="275" r="1.1" fill="none" stroke="#3a3a3a" stroke-width="0.7"/>
<line x1="375.2" y1="320.3" x2="389.8" y2="320.3" stroke="#231f20" stroke-width="1.2"/>
<polygon points="380.15,313.65 380.72,315.02 382.19,315.14 381.07,316.10 381.41,317.54 380.15,316.77 378.89,317.54 379.23,316.10 378.11,315.14 379.58,315.02" fill="#2a2a2a"/>
<polygon points="384.85,313.65 385.42,315.02 386.89,315.14 385.77,316.10 386.11,317.54 384.85,316.77 383.59,317.54 383.93,316.10 382.81,315.14 384.28,315.02" fill="#2a2a2a"/>
<line x1="412" y1="264.8" x2="426.8" y2="264.8" stroke="#231f20" stroke-width="1.2"/>
<polygon points="419.40,257.65 419.97,259.02 421.44,259.14 420.32,260.10 420.66,261.54 419.40,260.77 418.14,261.54 418.48,260.10 417.36,259.14 418.83,259.02" fill="#2a2a2a"/>
<text x="399.7" y="253.5" font-size="9.5" text-anchor="middle" font-style="italic">Ifnb1</text>
<text x="332.6" y="304.5" font-size="8.2" text-anchor="middle" transform="rotate(-90 332.6 304.5)">norm to <tspan font-style="italic">Gapdh</tspan></text>
<text x="340.6" y="361.5" font-size="9.5">p(I:C)</text>
<text x="373.55" y="361" font-size="9" text-anchor="middle">-</text>
<text x="389.8" y="361" font-size="9" text-anchor="middle">+</text>
<text x="411.3" y="361" font-size="9" text-anchor="middle">-</text>
<text x="428.3" y="361" font-size="9" text-anchor="middle">+</text>
<line x1="365.8" y1="362.6" x2="396.8" y2="362.6" stroke="#231f20" stroke-width="1.1"/>
<text x="381.3" y="371.3" font-size="9.3" text-anchor="middle">ESC</text>
<line x1="404.9" y1="362.6" x2="436.5" y2="362.6" stroke="#231f20" stroke-width="1.1"/>
<text x="420.7" y="371.3" font-size="9.3" text-anchor="middle">diff</text>
<line x1="479.7" y1="256.9" x2="479.7" y2="349.6" stroke="#231f20" stroke-width="1.1"/>
<line x1="476.2" y1="349.1" x2="558.7" y2="349.1" stroke="#231f20" stroke-width="1.1"/>
<line x1="475.7" y1="349.1" x2="479.7" y2="349.1" stroke="#231f20" stroke-width="1"/>
<text x="476.4" y="351.2" font-size="9.5" text-anchor="end">1e-5</text>
<line x1="475.7" y1="318.53" x2="479.7" y2="318.53" stroke="#231f20" stroke-width="1"/>
<text x="476.4" y="320.63" font-size="9.5" text-anchor="end">1e-4</text>
<line x1="475.7" y1="287.96" x2="479.7" y2="287.96" stroke="#231f20" stroke-width="1"/>
<text x="476.4" y="290.06" font-size="9.5" text-anchor="end">1e-3</text>
<line x1="475.7" y1="257.39" x2="479.7" y2="257.39" stroke="#231f20" stroke-width="1"/>
<text x="476.4" y="259.49" font-size="9.5" text-anchor="end">1e-2</text>
<rect x="486.9" y="331.3" width="7.4" height="17.8" fill="#f8bb2e" stroke="#262628" stroke-width="1.2"/>
<line x1="490.6" y1="331.3" x2="490.6" y2="329.1" stroke="#3a3a3a" stroke-width="0.7"/>
<line x1="489.6" y1="329.1" x2="491.6" y2="329.1" stroke="#3a3a3a" stroke-width="0.7"/>
<circle cx="490.6" cy="329.9" r="1.1" fill="none" stroke="#3a3a3a" stroke-width="0.7"/>
<circle cx="490.6" cy="332.9" r="1.1" fill="none" stroke="#3a3a3a" stroke-width="0.7"/>
<rect x="503.5" y="310" width="7.3" height="39.1" fill="#f8bb2e" stroke="#262628" stroke-width="1.2"/>
<line x1="507.15" y1="310" x2="507.15" y2="307.8" stroke="#3a3a3a" stroke-width="0.7"/>
<line x1="506.15" y1="307.8" x2="508.15" y2="307.8" stroke="#3a3a3a" stroke-width="0.7"/>
<circle cx="507.15" cy="308.6" r="1.1" fill="none" stroke="#3a3a3a" stroke-width="0.7"/>
<circle cx="507.15" cy="311.6" r="1.1" fill="none" stroke="#3a3a3a" stroke-width="0.7"/>
<rect x="526.8" y="311.8" width="7.4" height="37.3" fill="#0a508b" stroke="#262628" stroke-width="1.2"/>
<line x1="530.5" y1="311.8" x2="530.5" y2="309.6" stroke="#3a3a3a" stroke-width="0.7"/>
<line x1="529.5" y1="309.6" x2="531.5" y2="309.6" stroke="#3a3a3a" stroke-width="0.7"/>
<circle cx="530.5" cy="310.4" r="1.1" fill="none" stroke="#3a3a3a" stroke-width="0.7"/>
<circle cx="530.5" cy="313.4" r="1.1" fill="none" stroke="#3a3a3a" stroke-width="0.7"/>
<rect x="543.3" y="277.8" width="7.1" height="71.3" fill="#0a508b" stroke="#262628" stroke-width="1.2"/>
<line x1="546.85" y1="277.8" x2="546.85" y2="275.6" stroke="#3a3a3a" stroke-width="0.7"/>
<line x1="545.85" y1="275.6" x2="547.85" y2="275.6" stroke="#3a3a3a" stroke-width="0.7"/>
<circle cx="546.85" cy="276.4" r="1.1" fill="none" stroke="#3a3a3a" stroke-width="0.7"/>
<circle cx="546.85" cy="279.4" r="1.1" fill="none" stroke="#3a3a3a" stroke-width="0.7"/>
<line x1="491" y1="303.2" x2="506.7" y2="303.2" stroke="#231f20" stroke-width="1.2"/>
<polygon points="494.15,296.15 494.72,297.52 496.19,297.64 495.07,298.60 495.41,300.04 494.15,299.27 492.89,300.04 493.23,298.60 492.11,297.64 493.58,297.52" fill="#2a2a2a"/>
<polygon points="498.85,296.15 499.42,297.52 500.89,297.64 499.77,298.60 500.11,300.04 498.85,299.27 497.59,300.04 497.93,298.60 496.81,297.64 498.28,297.52" fill="#2a2a2a"/>
<polygon points="503.55,296.15 504.12,297.52 505.59,297.64 504.47,298.60 504.81,300.04 503.55,299.27 502.29,300.04 502.63,298.60 501.51,297.64 502.98,297.52" fill="#2a2a2a"/>
<line x1="532.2" y1="268.8" x2="547.7" y2="268.8" stroke="#231f20" stroke-width="1.2"/>
<polygon points="535.25,260.35 535.82,261.72 537.29,261.84 536.17,262.80 536.51,264.24 535.25,263.47 533.99,264.24 534.33,262.80 533.21,261.84 534.68,261.72" fill="#2a2a2a"/>
<polygon points="539.95,260.35 540.52,261.72 541.99,261.84 540.87,262.80 541.21,264.24 539.95,263.47 538.69,264.24 539.03,262.80 537.91,261.84 539.38,261.72" fill="#2a2a2a"/>
<polygon points="544.65,260.35 545.22,261.72 546.69,261.84 545.57,262.80 545.91,264.24 544.65,263.47 543.39,264.24 543.73,262.80 542.61,261.84 544.08,261.72" fill="#2a2a2a"/>
<text x="520.3" y="253.5" font-size="9.5" text-anchor="middle" font-style="italic">Tnf</text>
<text x="454.6" y="304.5" font-size="8.2" text-anchor="middle" transform="rotate(-90 454.6 304.5)">norm to <tspan font-style="italic">Gapdh</tspan></text>
<text x="459.2" y="361.5" font-size="9.5">p(I:C)</text>
<text x="490.6" y="361" font-size="9" text-anchor="middle">-</text>
<text x="507.15" y="361" font-size="9" text-anchor="middle">+</text>
<text x="530.5" y="361" font-size="9" text-anchor="middle">-</text>
<text x="546.85" y="361" font-size="9" text-anchor="middle">+</text>
<line x1="484.3" y1="362.6" x2="513.8" y2="362.6" stroke="#231f20" stroke-width="1.1"/>
<text x="499.05" y="371.3" font-size="9.3" text-anchor="middle">ESC</text>
<line x1="523.2" y1="362.6" x2="555.1" y2="362.6" stroke="#231f20" stroke-width="1.1"/>
<text x="539.15" y="371.3" font-size="9.3" text-anchor="middle">diff</text>
<line x1="599.4" y1="257.1" x2="599.4" y2="349.3" stroke="#231f20" stroke-width="1.1"/>
<line x1="595.9" y1="348.8" x2="677.5" y2="348.8" stroke="#231f20" stroke-width="1.1"/>
<line x1="595.4" y1="348.8" x2="599.4" y2="348.8" stroke="#231f20" stroke-width="1"/>
<text x="596.2" y="350.9" font-size="9.5" text-anchor="end">1e-5</text>
<line x1="595.4" y1="333.6" x2="599.4" y2="333.6" stroke="#231f20" stroke-width="1"/>
<text x="596.2" y="335.7" font-size="9.5" text-anchor="end">1e-4</text>
<line x1="595.4" y1="318.4" x2="599.4" y2="318.4" stroke="#231f20" stroke-width="1"/>
<text x="596.2" y="320.5" font-size="9.5" text-anchor="end">1e-3</text>
<line x1="595.4" y1="303.2" x2="599.4" y2="303.2" stroke="#231f20" stroke-width="1"/>
<text x="596.2" y="305.3" font-size="9.5" text-anchor="end">1e-2</text>
<line x1="595.4" y1="288" x2="599.4" y2="288" stroke="#231f20" stroke-width="1"/>
<text x="596.2" y="290.1" font-size="9.5" text-anchor="end">1e-1</text>
<line x1="595.4" y1="272.8" x2="599.4" y2="272.8" stroke="#231f20" stroke-width="1"/>
<text x="596.2" y="274.9" font-size="9.5" text-anchor="end">1e0</text>
<line x1="595.4" y1="257.6" x2="599.4" y2="257.6" stroke="#231f20" stroke-width="1"/>
<text x="596.2" y="259.7" font-size="9.5" text-anchor="end">1e1</text>
<rect x="606.4" y="340.1" width="7.6" height="8.7" fill="#f8bb2e" stroke="#262628" stroke-width="1.2"/>
<line x1="610.2" y1="340.1" x2="610.2" y2="337.9" stroke="#3a3a3a" stroke-width="0.7"/>
<line x1="609.2" y1="337.9" x2="611.2" y2="337.9" stroke="#3a3a3a" stroke-width="0.7"/>
<circle cx="610.2" cy="338.7" r="1.1" fill="none" stroke="#3a3a3a" stroke-width="0.7"/>
<circle cx="610.2" cy="341.7" r="1.1" fill="none" stroke="#3a3a3a" stroke-width="0.7"/>
<rect x="622" y="317.7" width="7.7" height="31.1" fill="#f8bb2e" stroke="#262628" stroke-width="1.2"/>
<line x1="625.85" y1="317.7" x2="625.85" y2="315.5" stroke="#3a3a3a" stroke-width="0.7"/>
<line x1="624.85" y1="315.5" x2="626.85" y2="315.5" stroke="#3a3a3a" stroke-width="0.7"/>
<circle cx="625.85" cy="316.3" r="1.1" fill="none" stroke="#3a3a3a" stroke-width="0.7"/>
<circle cx="625.85" cy="319.3" r="1.1" fill="none" stroke="#3a3a3a" stroke-width="0.7"/>
<rect x="645.3" y="300.3" width="7.4" height="48.5" fill="#0a508b" stroke="#262628" stroke-width="1.2"/>
<line x1="649" y1="300.3" x2="649" y2="298.1" stroke="#3a3a3a" stroke-width="0.7"/>
<line x1="648" y1="298.1" x2="650" y2="298.1" stroke="#3a3a3a" stroke-width="0.7"/>
<circle cx="649" cy="298.9" r="1.1" fill="none" stroke="#3a3a3a" stroke-width="0.7"/>
<circle cx="649" cy="301.9" r="1.1" fill="none" stroke="#3a3a3a" stroke-width="0.7"/>
<rect x="661.9" y="270.7" width="7.9" height="78.1" fill="#0a508b" stroke="#262628" stroke-width="1.2"/>
<line x1="665.85" y1="270.7" x2="665.85" y2="268.5" stroke="#3a3a3a" stroke-width="0.7"/>
<line x1="664.85" y1="268.5" x2="666.85" y2="268.5" stroke="#3a3a3a" stroke-width="0.7"/>
<circle cx="665.85" cy="269.3" r="1.1" fill="none" stroke="#3a3a3a" stroke-width="0.7"/>
<circle cx="665.85" cy="272.3" r="1.1" fill="none" stroke="#3a3a3a" stroke-width="0.7"/>
<line x1="609.6" y1="309.1" x2="625.5" y2="309.1" stroke="#231f20" stroke-width="1.2"/>
<polygon points="617.55,302.55 618.12,303.92 619.59,304.04 618.47,305.00 618.81,306.44 617.55,305.67 616.29,306.44 616.63,305.00 615.51,304.04 616.98,303.92" fill="#2a2a2a"/>
<line x1="649.4" y1="264.2" x2="665.4" y2="264.2" stroke="#231f20" stroke-width="1.2"/>
<polygon points="652.70,257.65 653.27,259.02 654.74,259.14 653.62,260.10 653.96,261.54 652.70,260.77 651.44,261.54 651.78,260.10 650.66,259.14 652.13,259.02" fill="#2a2a2a"/>
<polygon points="657.40,257.65 657.97,259.02 659.44,259.14 658.32,260.10 658.66,261.54 657.40,260.77 656.14,261.54 656.48,260.10 655.36,259.14 656.83,259.02" fill="#2a2a2a"/>
<polygon points="662.10,257.65 662.67,259.02 664.14,259.14 663.02,260.10 663.36,261.54 662.10,260.77 660.84,261.54 661.18,260.10 660.06,259.14 661.53,259.02" fill="#2a2a2a"/>
<text x="636.2" y="253.5" font-size="9.5" text-anchor="middle" font-style="italic">Cxcl10</text>
<text x="570" y="304.5" font-size="8.2" text-anchor="middle" transform="rotate(-90 570 304.5)">norm to <tspan font-style="italic">Gapdh</tspan></text>
<text x="577.7" y="361.5" font-size="9.5">p(I:C)</text>
<text x="610.2" y="361" font-size="9" text-anchor="middle">-</text>
<text x="625.85" y="361" font-size="9" text-anchor="middle">+</text>
<text x="649" y="361" font-size="9" text-anchor="middle">-</text>
<text x="665.85" y="361" font-size="9" text-anchor="middle">+</text>
<line x1="602.8" y1="362.6" x2="632.3" y2="362.6" stroke="#231f20" stroke-width="1.1"/>
<text x="617.55" y="371.3" font-size="9.3" text-anchor="middle">ESC</text>
<line x1="641.2" y1="362.6" x2="673.7" y2="362.6" stroke="#231f20" stroke-width="1.1"/>
<text x="657.45" y="371.3" font-size="9.3" text-anchor="middle">diff</text>
<text x="326.5" y="407.5" font-size="8.5" font-weight="bold">h</text>
<line x1="349.4" y1="433" x2="349.4" y2="507.9" stroke="#231f20" stroke-width="1.1"/>
<line x1="346.2" y1="507.4" x2="472.8" y2="507.4" stroke="#231f20" stroke-width="1.1"/>
<line x1="387.6" y1="507.4" x2="387.6" y2="509.6" stroke="#231f20" stroke-width="0.9"/>
<line x1="430.6" y1="507.4" x2="430.6" y2="509.6" stroke="#231f20" stroke-width="0.9"/>
<line x1="345.9" y1="507.4" x2="349.4" y2="507.4" stroke="#231f20" stroke-width="1"/>
<text x="342.2" y="510.8" font-size="9.5" text-anchor="end">1</text>
<line x1="345.9" y1="488.87" x2="349.4" y2="488.87" stroke="#231f20" stroke-width="1"/>
<text x="341.8" y="492.27" font-size="9.5" text-anchor="end">10</text>
<line x1="345.9" y1="470.34" x2="349.4" y2="470.34" stroke="#231f20" stroke-width="1"/>
<text x="341.8" y="474.74" font-size="9.5" text-anchor="end">10</text>
<text x="342" y="471.34" font-size="5">2</text>
<line x1="345.9" y1="451.81" x2="349.4" y2="451.81" stroke="#231f20" stroke-width="1"/>
<text x="341.8" y="456.21" font-size="9.5" text-anchor="end">10</text>
<text x="342" y="452.81" font-size="5">3</text>
<line x1="345.9" y1="433.28" x2="349.4" y2="433.28" stroke="#231f20" stroke-width="1"/>
<text x="341.8" y="437.68" font-size="9.5" text-anchor="end">10</text>
<text x="342" y="434.28" font-size="5">4</text>
<rect x="357.4" y="481.6" width="7.2" height="25.8" fill="#f8bb2e" stroke="#262628" stroke-width="1.2"/>
<circle cx="361" cy="481.9" r="1.1" fill="none" stroke="#3a3a3a" stroke-width="0.7"/>
<rect x="373.2" y="469.1" width="7.8" height="38.3" fill="#0a508b" stroke="#262628" stroke-width="1.2"/>
<circle cx="377.1" cy="469.4" r="1.1" fill="none" stroke="#3a3a3a" stroke-width="0.7"/>
<rect x="396.3" y="473.6" width="7.7" height="33.8" fill="#f8bb2e" stroke="#262628" stroke-width="1.2"/>
<circle cx="400.15" cy="473.9" r="1.1" fill="none" stroke="#3a3a3a" stroke-width="0.7"/>
<rect x="412.1" y="454.7" width="8.1" height="52.7" fill="#0a508b" stroke="#262628" stroke-width="1.2"/>
<circle cx="416.15" cy="455" r="1.1" fill="none" stroke="#3a3a3a" stroke-width="0.7"/>
<rect x="438.7" y="459.2" width="7.8" height="48.2" fill="#f8bb2e" stroke="#262628" stroke-width="1.2"/>
<circle cx="442.6" cy="459.5" r="1.1" fill="none" stroke="#3a3a3a" stroke-width="0.7"/>
<rect x="454.6" y="432.9" width="8.3" height="74.5" fill="#0a508b" stroke="#262628" stroke-width="1.2"/>
<circle cx="458.75" cy="433.2" r="1.1" fill="none" stroke="#3a3a3a" stroke-width="0.7"/>
<text x="358.8" y="516" font-size="9" text-anchor="middle">ESC</text>
<text x="399.6" y="516" font-size="9" text-anchor="middle">ESC</text>
<text x="442.3" y="516" font-size="9" text-anchor="middle">ESC</text>
<text x="376.8" y="516" font-size="9" text-anchor="middle">diff</text>
<text x="417.9" y="516" font-size="9" text-anchor="middle">diff</text>
<text x="461.1" y="516" font-size="9" text-anchor="middle">diff</text>
<text x="369.4" y="418.6" font-size="9.3" text-anchor="middle" font-style="italic">Stat1</text>
<text x="407.6" y="418.6" font-size="9.3" text-anchor="middle" font-style="italic">Oas1</text>
<text x="447.1" y="418.6" font-size="9.3" text-anchor="middle" font-style="italic">Isg15</text>
<polygon points="377.00,459.55 377.57,460.92 379.04,461.04 377.92,462.00 378.26,463.44 377.00,462.67 375.74,463.44 376.08,462.00 374.96,461.04 376.43,460.92" fill="#2a2a2a"/>
<polygon points="411.40,443.85 411.97,445.22 413.44,445.34 412.32,446.30 412.66,447.74 411.40,446.97 410.14,447.74 410.48,446.30 409.36,445.34 410.83,445.22" fill="#2a2a2a"/>
<polygon points="416.10,443.85 416.67,445.22 418.14,445.34 417.02,446.30 417.36,447.74 416.10,446.97 414.84,447.74 415.18,446.30 414.06,445.34 415.53,445.22" fill="#2a2a2a"/>
<polygon points="420.80,443.85 421.37,445.22 422.84,445.34 421.72,446.30 422.06,447.74 420.80,446.97 419.54,447.74 419.88,446.30 418.76,445.34 420.23,445.22" fill="#2a2a2a"/>
<polygon points="439.95,448.15 440.52,449.52 441.99,449.64 440.87,450.60 441.21,452.04 439.95,451.27 438.69,452.04 439.03,450.60 437.91,449.64 439.38,449.52" fill="#2a2a2a"/>
<polygon points="444.65,448.15 445.22,449.52 446.69,449.64 445.57,450.60 445.91,452.04 444.65,451.27 443.39,452.04 443.73,450.60 442.61,449.64 444.08,449.52" fill="#2a2a2a"/>
<polygon points="456.65,423.65 457.22,425.02 458.69,425.14 457.57,426.10 457.91,427.54 456.65,426.77 455.39,427.54 455.73,426.10 454.61,425.14 456.08,425.02" fill="#2a2a2a"/>
<polygon points="461.35,423.65 461.92,425.02 463.39,425.14 462.27,426.10 462.61,427.54 461.35,426.77 460.09,427.54 460.43,426.10 459.31,425.14 460.78,425.02" fill="#2a2a2a"/>
<line x1="361.1" y1="481.4" x2="361.1" y2="477.2" stroke="#3a3a3a" stroke-width="0.7"/>
<line x1="359.9" y1="477.2" x2="362.3" y2="477.2" stroke="#3a3a3a" stroke-width="0.7"/>
<circle cx="361.1" cy="474.6" r="1.1" fill="none" stroke="#3a3a3a" stroke-width="0.7"/>
<circle cx="361.1" cy="488.9" r="1.1" fill="none" stroke="#3a3a3a" stroke-width="0.7"/>
<circle cx="361.1" cy="491" r="1.1" fill="none" stroke="#3a3a3a" stroke-width="0.7"/>
<line x1="400.2" y1="473.2" x2="400.2" y2="470.9" stroke="#3a3a3a" stroke-width="0.7"/>
<line x1="399" y1="470.9" x2="401.4" y2="470.9" stroke="#3a3a3a" stroke-width="0.7"/>
<circle cx="400.2" cy="467.9" r="1.1" fill="none" stroke="#3a3a3a" stroke-width="0.7"/>
<circle cx="400.2" cy="476.7" r="1.1" fill="none" stroke="#3a3a3a" stroke-width="0.7"/>
<circle cx="400.2" cy="478.6" r="1.1" fill="none" stroke="#3a3a3a" stroke-width="0.7"/>
<line x1="442.3" y1="458.8" x2="442.3" y2="456.5" stroke="#3a3a3a" stroke-width="0.7"/>
<line x1="441.1" y1="456.5" x2="443.5" y2="456.5" stroke="#3a3a3a" stroke-width="0.7"/>
<circle cx="442.3" cy="456.5" r="1.1" fill="none" stroke="#3a3a3a" stroke-width="0.7"/>
<circle cx="442.3" cy="466.5" r="1.1" fill="none" stroke="#3a3a3a" stroke-width="0.7"/>
<text x="314" y="468.5" font-size="8.9" text-anchor="middle" transform="rotate(-90 314 468.5)">FC over untreated ESC</text>
<text x="325" y="468.5" font-size="9.3" text-anchor="middle" transform="rotate(-90 325 468.5)">(norm to <tspan font-style="italic">Gapdh</tspan>)</text>
<text x="485.8" y="409.2" font-size="8.5" font-weight="bold">i</text>
<line x1="510" y1="429" x2="510" y2="506" stroke="#231f20" stroke-width="1.1"/>
<line x1="507" y1="505.5" x2="683.8" y2="505.5" stroke="#231f20" stroke-width="1.1"/>
<line x1="554" y1="505.5" x2="554" y2="507.7" stroke="#231f20" stroke-width="0.9"/>
<line x1="597" y1="505.5" x2="597" y2="507.7" stroke="#231f20" stroke-width="0.9"/>
<line x1="640.5" y1="505.5" x2="640.5" y2="507.7" stroke="#231f20" stroke-width="0.9"/>
<line x1="506.5" y1="479.5" x2="510" y2="479.5" stroke="#231f20" stroke-width="1"/>
<text x="504.6" y="483.5" font-size="9.3" text-anchor="end">0.01</text>
<line x1="506.5" y1="453.5" x2="510" y2="453.5" stroke="#231f20" stroke-width="1"/>
<text x="504.6" y="457.5" font-size="9.3" text-anchor="end">0.02</text>
<line x1="506.5" y1="427.5" x2="510" y2="427.5" stroke="#231f20" stroke-width="1"/>
<text x="504.6" y="431.5" font-size="9.3" text-anchor="end">0.03</text>
<text x="513.5" y="510.9" font-size="9.3" text-anchor="middle">0</text>
<rect x="519.1" y="503.29" width="7.6" height="2.21" fill="#f3d23c" stroke="#262628" stroke-width="1.2"/>
<rect x="527.9" y="496.14" width="8" height="9.36" fill="#ee6b4c" stroke="#262628" stroke-width="1.2"/>
<rect x="537.1" y="496.4" width="8.3" height="9.1" fill="#2f5da8" stroke="#262628" stroke-width="1.2"/>
<rect x="561.9" y="500.56" width="7.7" height="4.94" fill="#f3d23c" stroke="#262628" stroke-width="1.2"/>
<rect x="570.8" y="448.82" width="8.2" height="56.68" fill="#ee6b4c" stroke="#262628" stroke-width="1.2"/>
<rect x="580.2" y="473.52" width="7.9" height="31.98" fill="#2f5da8" stroke="#262628" stroke-width="1.2"/>
<rect x="604.6" y="500.56" width="7.8" height="4.94" fill="#f3d23c" stroke="#262628" stroke-width="1.2"/>
<rect x="613.6" y="500.82" width="8.3" height="4.68" fill="#ee6b4c" stroke="#262628" stroke-width="1.2"/>
<rect x="623.1" y="491.2" width="8.1" height="14.3" fill="#2f5da8" stroke="#262628" stroke-width="1.2"/>
<rect x="647.6" y="504.98" width="7.8" height="0.52" fill="#f3d23c" stroke="#262628" stroke-width="1.2"/>
<rect x="656.6" y="505.24" width="7.8" height="0.26" fill="#ee6b4c" stroke="#262628" stroke-width="1.2"/>
<rect x="668.6" y="489.9" width="7.8" height="15.6" fill="#2f5da8" stroke="#262628" stroke-width="1.2"/>
<line x1="575" y1="449.9" x2="575" y2="439.5" stroke="#3a3a3a" stroke-width="0.7"/>
<line x1="573.8" y1="439.5" x2="576.2" y2="439.5" stroke="#3a3a3a" stroke-width="0.7"/>
<circle cx="575" cy="441.6" r="1.1" fill="none" stroke="#3a3a3a" stroke-width="0.7"/>
<circle cx="575" cy="445.7" r="1.1" fill="none" stroke="#3a3a3a" stroke-width="0.7"/>
<circle cx="575" cy="460.7" r="1.1" fill="none" stroke="#3a3a3a" stroke-width="0.7"/>
<line x1="584" y1="474" x2="584" y2="461" stroke="#3a3a3a" stroke-width="0.7"/>
<line x1="582.8" y1="461" x2="585.2" y2="461" stroke="#3a3a3a" stroke-width="0.7"/>
<circle cx="584" cy="460.7" r="1.1" fill="none" stroke="#3a3a3a" stroke-width="0.7"/>
<circle cx="584" cy="479.8" r="1.1" fill="none" stroke="#3a3a3a" stroke-width="0.7"/>
<circle cx="584" cy="483.1" r="1.1" fill="none" stroke="#3a3a3a" stroke-width="0.7"/>
<polygon points="569.40,431.15 569.97,432.52 571.44,432.64 570.32,433.60 570.66,435.04 569.40,434.27 568.14,435.04 568.48,433.60 567.36,432.64 568.83,432.52" fill="#2a2a2a"/>
<polygon points="574.10,431.15 574.67,432.52 576.14,432.64 575.02,433.60 575.36,435.04 574.10,434.27 572.84,435.04 573.18,433.60 572.06,432.64 573.53,432.52" fill="#2a2a2a"/>
<polygon points="578.80,431.15 579.37,432.52 580.84,432.64 579.72,433.60 580.06,435.04 578.80,434.27 577.54,435.04 577.88,433.60 576.76,432.64 578.23,432.52" fill="#2a2a2a"/>
<polygon points="582.15,451.35 582.72,452.72 584.19,452.84 583.07,453.80 583.41,455.24 582.15,454.47 580.89,455.24 581.23,453.80 580.11,452.84 581.58,452.72" fill="#2a2a2a"/>
<polygon points="586.85,451.35 587.42,452.72 588.89,452.84 587.77,453.80 588.11,455.24 586.85,454.47 585.59,455.24 585.93,453.80 584.81,452.84 586.28,452.72" fill="#2a2a2a"/>
<line x1="522.8" y1="503" x2="522.8" y2="500.8" stroke="#3a3a3a" stroke-width="0.7"/>
<line x1="521.6" y1="500.8" x2="524" y2="500.8" stroke="#3a3a3a" stroke-width="0.7"/>
<circle cx="522.8" cy="500.4" r="1.1" fill="none" stroke="#3a3a3a" stroke-width="0.7"/>
<circle cx="522.8" cy="505.2" r="1.1" fill="none" stroke="#3a3a3a" stroke-width="0.7"/>
<circle cx="522.8" cy="506.8" r="1.1" fill="none" stroke="#3a3a3a" stroke-width="0.7"/>
<line x1="532.1" y1="496.1" x2="532.1" y2="493.9" stroke="#3a3a3a" stroke-width="0.7"/>
<line x1="530.9" y1="493.9" x2="533.3" y2="493.9" stroke="#3a3a3a" stroke-width="0.7"/>
<circle cx="532.1" cy="493.5" r="1.1" fill="none" stroke="#3a3a3a" stroke-width="0.7"/>
<circle cx="532.1" cy="498.3" r="1.1" fill="none" stroke="#3a3a3a" stroke-width="0.7"/>
<circle cx="532.1" cy="499.9" r="1.1" fill="none" stroke="#3a3a3a" stroke-width="0.7"/>
<line x1="541.6" y1="496.1" x2="541.6" y2="493.9" stroke="#3a3a3a" stroke-width="0.7"/>
<line x1="540.4" y1="493.9" x2="542.8" y2="493.9" stroke="#3a3a3a" stroke-width="0.7"/>
<circle cx="541.6" cy="493.5" r="1.1" fill="none" stroke="#3a3a3a" stroke-width="0.7"/>
<circle cx="541.6" cy="498.3" r="1.1" fill="none" stroke="#3a3a3a" stroke-width="0.7"/>
<circle cx="541.6" cy="499.9" r="1.1" fill="none" stroke="#3a3a3a" stroke-width="0.7"/>
<line x1="565.7" y1="500.5" x2="565.7" y2="498.3" stroke="#3a3a3a" stroke-width="0.7"/>
<line x1="564.5" y1="498.3" x2="566.9" y2="498.3" stroke="#3a3a3a" stroke-width="0.7"/>
<circle cx="565.7" cy="497.9" r="1.1" fill="none" stroke="#3a3a3a" stroke-width="0.7"/>
<circle cx="565.7" cy="502.7" r="1.1" fill="none" stroke="#3a3a3a" stroke-width="0.7"/>
<circle cx="565.7" cy="504.3" r="1.1" fill="none" stroke="#3a3a3a" stroke-width="0.7"/>
<line x1="608.9" y1="500.4" x2="608.9" y2="498.2" stroke="#3a3a3a" stroke-width="0.7"/>
<line x1="607.7" y1="498.2" x2="610.1" y2="498.2" stroke="#3a3a3a" stroke-width="0.7"/>
<circle cx="608.9" cy="497.8" r="1.1" fill="none" stroke="#3a3a3a" stroke-width="0.7"/>
<circle cx="608.9" cy="502.6" r="1.1" fill="none" stroke="#3a3a3a" stroke-width="0.7"/>
<circle cx="608.9" cy="504.2" r="1.1" fill="none" stroke="#3a3a3a" stroke-width="0.7"/>
<line x1="618" y1="500.4" x2="618" y2="498.2" stroke="#3a3a3a" stroke-width="0.7"/>
<line x1="616.8" y1="498.2" x2="619.2" y2="498.2" stroke="#3a3a3a" stroke-width="0.7"/>
<circle cx="618" cy="497.8" r="1.1" fill="none" stroke="#3a3a3a" stroke-width="0.7"/>
<circle cx="618" cy="502.6" r="1.1" fill="none" stroke="#3a3a3a" stroke-width="0.7"/>
<circle cx="618" cy="504.2" r="1.1" fill="none" stroke="#3a3a3a" stroke-width="0.7"/>
<line x1="627.1" y1="491" x2="627.1" y2="488.8" stroke="#3a3a3a" stroke-width="0.7"/>
<line x1="625.9" y1="488.8" x2="628.3" y2="488.8" stroke="#3a3a3a" stroke-width="0.7"/>
<circle cx="627.1" cy="488.4" r="1.1" fill="none" stroke="#3a3a3a" stroke-width="0.7"/>
<circle cx="627.1" cy="493.2" r="1.1" fill="none" stroke="#3a3a3a" stroke-width="0.7"/>
<circle cx="627.1" cy="494.8" r="1.1" fill="none" stroke="#3a3a3a" stroke-width="0.7"/>
<line x1="672.8" y1="489.7" x2="672.8" y2="487.5" stroke="#3a3a3a" stroke-width="0.7"/>
<line x1="671.6" y1="487.5" x2="674" y2="487.5" stroke="#3a3a3a" stroke-width="0.7"/>
<circle cx="672.8" cy="487.1" r="1.1" fill="none" stroke="#3a3a3a" stroke-width="0.7"/>
<circle cx="672.8" cy="491.9" r="1.1" fill="none" stroke="#3a3a3a" stroke-width="0.7"/>
<circle cx="672.8" cy="493.5" r="1.1" fill="none" stroke="#3a3a3a" stroke-width="0.7"/>
<circle cx="651.5" cy="505" r="1.1" fill="none" stroke="#3a3a3a" stroke-width="0.7"/>
<circle cx="661.5" cy="505" r="1.1" fill="none" stroke="#3a3a3a" stroke-width="0.7"/>
<circle cx="522.8" cy="505" r="1.1" fill="none" stroke="#3a3a3a" stroke-width="0.7"/>
<text x="532.8" y="514.6" font-size="9.3" text-anchor="middle">0</text>
<text x="576.2" y="514.6" font-size="9.3" text-anchor="middle">6</text>
<text x="619.5" y="514.6" font-size="9.3" text-anchor="middle">24</text>
<text x="662.9" y="514.6" font-size="9.3" text-anchor="middle">48</text>
<text x="595.6" y="526" font-size="9.3" text-anchor="middle">hours after IFN-ß</text>
<rect x="646.6" y="429.5" width="5.6" height="5.6" fill="#f3d23c" stroke="#262628" stroke-width="0.8"/>
<text x="655.4" y="435.1" font-size="9.3" font-style="italic">Ifih1</text>
<rect x="646.6" y="441.4" width="5.6" height="5.6" fill="#ee6b4c" stroke="#262628" stroke-width="0.8"/>
<text x="655.4" y="447" font-size="9.3" font-style="italic">Oas1</text>
<rect x="646.6" y="453.3" width="5.6" height="5.6" fill="#2f5da8" stroke="#262628" stroke-width="0.8"/>
<text x="655.4" y="458.9" font-size="9.3" font-style="italic">Stat1</text>
<text x="485" y="462.4" font-size="9.3" text-anchor="middle" transform="rotate(-90 485 462.4)">norm to <tspan font-style="italic">Actb</tspan></text>
</svg></body></html>
